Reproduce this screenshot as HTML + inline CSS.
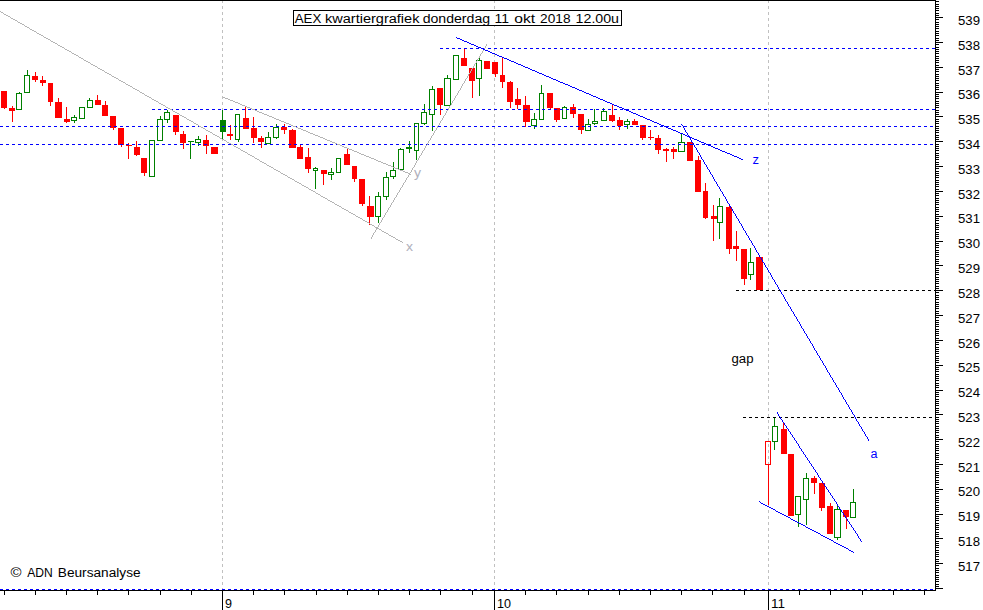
<!DOCTYPE html>
<html><head><meta charset="utf-8"><style>
html,body{margin:0;padding:0;background:#fff;}
svg{display:block;}
text{font-family:"Liberation Sans",sans-serif;}
</style></head><body>
<svg width="983" height="610" viewBox="0 0 983 610" shape-rendering="crispEdges">
<rect x="0" y="0" width="983" height="610" fill="#ffffff"/>
<rect x="222" y="0" width="1" height="3" fill="#c0c0c0"/>
<rect x="222" y="6" width="1" height="3" fill="#c0c0c0"/>
<rect x="222" y="12" width="1" height="3" fill="#c0c0c0"/>
<rect x="222" y="18" width="1" height="3" fill="#c0c0c0"/>
<rect x="222" y="24" width="1" height="3" fill="#c0c0c0"/>
<rect x="222" y="30" width="1" height="3" fill="#c0c0c0"/>
<rect x="222" y="36" width="1" height="3" fill="#c0c0c0"/>
<rect x="222" y="42" width="1" height="3" fill="#c0c0c0"/>
<rect x="222" y="48" width="1" height="3" fill="#c0c0c0"/>
<rect x="222" y="54" width="1" height="3" fill="#c0c0c0"/>
<rect x="222" y="60" width="1" height="3" fill="#c0c0c0"/>
<rect x="222" y="66" width="1" height="3" fill="#c0c0c0"/>
<rect x="222" y="72" width="1" height="3" fill="#c0c0c0"/>
<rect x="222" y="78" width="1" height="3" fill="#c0c0c0"/>
<rect x="222" y="84" width="1" height="3" fill="#c0c0c0"/>
<rect x="222" y="90" width="1" height="3" fill="#c0c0c0"/>
<rect x="222" y="96" width="1" height="3" fill="#c0c0c0"/>
<rect x="222" y="102" width="1" height="3" fill="#c0c0c0"/>
<rect x="222" y="108" width="1" height="3" fill="#c0c0c0"/>
<rect x="222" y="114" width="1" height="3" fill="#c0c0c0"/>
<rect x="222" y="120" width="1" height="3" fill="#c0c0c0"/>
<rect x="222" y="126" width="1" height="3" fill="#c0c0c0"/>
<rect x="222" y="132" width="1" height="3" fill="#c0c0c0"/>
<rect x="222" y="138" width="1" height="3" fill="#c0c0c0"/>
<rect x="222" y="144" width="1" height="3" fill="#c0c0c0"/>
<rect x="222" y="150" width="1" height="3" fill="#c0c0c0"/>
<rect x="222" y="156" width="1" height="3" fill="#c0c0c0"/>
<rect x="222" y="162" width="1" height="3" fill="#c0c0c0"/>
<rect x="222" y="168" width="1" height="3" fill="#c0c0c0"/>
<rect x="222" y="174" width="1" height="3" fill="#c0c0c0"/>
<rect x="222" y="180" width="1" height="3" fill="#c0c0c0"/>
<rect x="222" y="186" width="1" height="3" fill="#c0c0c0"/>
<rect x="222" y="192" width="1" height="3" fill="#c0c0c0"/>
<rect x="222" y="198" width="1" height="3" fill="#c0c0c0"/>
<rect x="222" y="204" width="1" height="3" fill="#c0c0c0"/>
<rect x="222" y="210" width="1" height="3" fill="#c0c0c0"/>
<rect x="222" y="216" width="1" height="3" fill="#c0c0c0"/>
<rect x="222" y="222" width="1" height="3" fill="#c0c0c0"/>
<rect x="222" y="228" width="1" height="3" fill="#c0c0c0"/>
<rect x="222" y="234" width="1" height="3" fill="#c0c0c0"/>
<rect x="222" y="240" width="1" height="3" fill="#c0c0c0"/>
<rect x="222" y="246" width="1" height="3" fill="#c0c0c0"/>
<rect x="222" y="252" width="1" height="3" fill="#c0c0c0"/>
<rect x="222" y="258" width="1" height="3" fill="#c0c0c0"/>
<rect x="222" y="264" width="1" height="3" fill="#c0c0c0"/>
<rect x="222" y="270" width="1" height="3" fill="#c0c0c0"/>
<rect x="222" y="276" width="1" height="3" fill="#c0c0c0"/>
<rect x="222" y="282" width="1" height="3" fill="#c0c0c0"/>
<rect x="222" y="288" width="1" height="3" fill="#c0c0c0"/>
<rect x="222" y="294" width="1" height="3" fill="#c0c0c0"/>
<rect x="222" y="300" width="1" height="3" fill="#c0c0c0"/>
<rect x="222" y="306" width="1" height="3" fill="#c0c0c0"/>
<rect x="222" y="312" width="1" height="3" fill="#c0c0c0"/>
<rect x="222" y="318" width="1" height="3" fill="#c0c0c0"/>
<rect x="222" y="324" width="1" height="3" fill="#c0c0c0"/>
<rect x="222" y="330" width="1" height="3" fill="#c0c0c0"/>
<rect x="222" y="336" width="1" height="3" fill="#c0c0c0"/>
<rect x="222" y="342" width="1" height="3" fill="#c0c0c0"/>
<rect x="222" y="348" width="1" height="3" fill="#c0c0c0"/>
<rect x="222" y="354" width="1" height="3" fill="#c0c0c0"/>
<rect x="222" y="360" width="1" height="3" fill="#c0c0c0"/>
<rect x="222" y="366" width="1" height="3" fill="#c0c0c0"/>
<rect x="222" y="372" width="1" height="3" fill="#c0c0c0"/>
<rect x="222" y="378" width="1" height="3" fill="#c0c0c0"/>
<rect x="222" y="384" width="1" height="3" fill="#c0c0c0"/>
<rect x="222" y="390" width="1" height="3" fill="#c0c0c0"/>
<rect x="222" y="396" width="1" height="3" fill="#c0c0c0"/>
<rect x="222" y="402" width="1" height="3" fill="#c0c0c0"/>
<rect x="222" y="408" width="1" height="3" fill="#c0c0c0"/>
<rect x="222" y="414" width="1" height="3" fill="#c0c0c0"/>
<rect x="222" y="420" width="1" height="3" fill="#c0c0c0"/>
<rect x="222" y="426" width="1" height="3" fill="#c0c0c0"/>
<rect x="222" y="432" width="1" height="3" fill="#c0c0c0"/>
<rect x="222" y="438" width="1" height="3" fill="#c0c0c0"/>
<rect x="222" y="444" width="1" height="3" fill="#c0c0c0"/>
<rect x="222" y="450" width="1" height="3" fill="#c0c0c0"/>
<rect x="222" y="456" width="1" height="3" fill="#c0c0c0"/>
<rect x="222" y="462" width="1" height="3" fill="#c0c0c0"/>
<rect x="222" y="468" width="1" height="3" fill="#c0c0c0"/>
<rect x="222" y="474" width="1" height="3" fill="#c0c0c0"/>
<rect x="222" y="480" width="1" height="3" fill="#c0c0c0"/>
<rect x="222" y="486" width="1" height="3" fill="#c0c0c0"/>
<rect x="222" y="492" width="1" height="3" fill="#c0c0c0"/>
<rect x="222" y="498" width="1" height="3" fill="#c0c0c0"/>
<rect x="222" y="504" width="1" height="3" fill="#c0c0c0"/>
<rect x="222" y="510" width="1" height="3" fill="#c0c0c0"/>
<rect x="222" y="516" width="1" height="3" fill="#c0c0c0"/>
<rect x="222" y="522" width="1" height="3" fill="#c0c0c0"/>
<rect x="222" y="528" width="1" height="3" fill="#c0c0c0"/>
<rect x="222" y="534" width="1" height="3" fill="#c0c0c0"/>
<rect x="222" y="540" width="1" height="3" fill="#c0c0c0"/>
<rect x="222" y="546" width="1" height="3" fill="#c0c0c0"/>
<rect x="222" y="552" width="1" height="3" fill="#c0c0c0"/>
<rect x="222" y="558" width="1" height="3" fill="#c0c0c0"/>
<rect x="222" y="564" width="1" height="3" fill="#c0c0c0"/>
<rect x="222" y="570" width="1" height="3" fill="#c0c0c0"/>
<rect x="222" y="576" width="1" height="3" fill="#c0c0c0"/>
<rect x="222" y="582" width="1" height="3" fill="#c0c0c0"/>
<rect x="222" y="588" width="1" height="2" fill="#c0c0c0"/>
<rect x="494" y="0" width="1" height="3" fill="#c0c0c0"/>
<rect x="494" y="6" width="1" height="3" fill="#c0c0c0"/>
<rect x="494" y="12" width="1" height="3" fill="#c0c0c0"/>
<rect x="494" y="18" width="1" height="3" fill="#c0c0c0"/>
<rect x="494" y="24" width="1" height="3" fill="#c0c0c0"/>
<rect x="494" y="30" width="1" height="3" fill="#c0c0c0"/>
<rect x="494" y="36" width="1" height="3" fill="#c0c0c0"/>
<rect x="494" y="42" width="1" height="3" fill="#c0c0c0"/>
<rect x="494" y="48" width="1" height="3" fill="#c0c0c0"/>
<rect x="494" y="54" width="1" height="3" fill="#c0c0c0"/>
<rect x="494" y="60" width="1" height="3" fill="#c0c0c0"/>
<rect x="494" y="66" width="1" height="3" fill="#c0c0c0"/>
<rect x="494" y="72" width="1" height="3" fill="#c0c0c0"/>
<rect x="494" y="78" width="1" height="3" fill="#c0c0c0"/>
<rect x="494" y="84" width="1" height="3" fill="#c0c0c0"/>
<rect x="494" y="90" width="1" height="3" fill="#c0c0c0"/>
<rect x="494" y="96" width="1" height="3" fill="#c0c0c0"/>
<rect x="494" y="102" width="1" height="3" fill="#c0c0c0"/>
<rect x="494" y="108" width="1" height="3" fill="#c0c0c0"/>
<rect x="494" y="114" width="1" height="3" fill="#c0c0c0"/>
<rect x="494" y="120" width="1" height="3" fill="#c0c0c0"/>
<rect x="494" y="126" width="1" height="3" fill="#c0c0c0"/>
<rect x="494" y="132" width="1" height="3" fill="#c0c0c0"/>
<rect x="494" y="138" width="1" height="3" fill="#c0c0c0"/>
<rect x="494" y="144" width="1" height="3" fill="#c0c0c0"/>
<rect x="494" y="150" width="1" height="3" fill="#c0c0c0"/>
<rect x="494" y="156" width="1" height="3" fill="#c0c0c0"/>
<rect x="494" y="162" width="1" height="3" fill="#c0c0c0"/>
<rect x="494" y="168" width="1" height="3" fill="#c0c0c0"/>
<rect x="494" y="174" width="1" height="3" fill="#c0c0c0"/>
<rect x="494" y="180" width="1" height="3" fill="#c0c0c0"/>
<rect x="494" y="186" width="1" height="3" fill="#c0c0c0"/>
<rect x="494" y="192" width="1" height="3" fill="#c0c0c0"/>
<rect x="494" y="198" width="1" height="3" fill="#c0c0c0"/>
<rect x="494" y="204" width="1" height="3" fill="#c0c0c0"/>
<rect x="494" y="210" width="1" height="3" fill="#c0c0c0"/>
<rect x="494" y="216" width="1" height="3" fill="#c0c0c0"/>
<rect x="494" y="222" width="1" height="3" fill="#c0c0c0"/>
<rect x="494" y="228" width="1" height="3" fill="#c0c0c0"/>
<rect x="494" y="234" width="1" height="3" fill="#c0c0c0"/>
<rect x="494" y="240" width="1" height="3" fill="#c0c0c0"/>
<rect x="494" y="246" width="1" height="3" fill="#c0c0c0"/>
<rect x="494" y="252" width="1" height="3" fill="#c0c0c0"/>
<rect x="494" y="258" width="1" height="3" fill="#c0c0c0"/>
<rect x="494" y="264" width="1" height="3" fill="#c0c0c0"/>
<rect x="494" y="270" width="1" height="3" fill="#c0c0c0"/>
<rect x="494" y="276" width="1" height="3" fill="#c0c0c0"/>
<rect x="494" y="282" width="1" height="3" fill="#c0c0c0"/>
<rect x="494" y="288" width="1" height="3" fill="#c0c0c0"/>
<rect x="494" y="294" width="1" height="3" fill="#c0c0c0"/>
<rect x="494" y="300" width="1" height="3" fill="#c0c0c0"/>
<rect x="494" y="306" width="1" height="3" fill="#c0c0c0"/>
<rect x="494" y="312" width="1" height="3" fill="#c0c0c0"/>
<rect x="494" y="318" width="1" height="3" fill="#c0c0c0"/>
<rect x="494" y="324" width="1" height="3" fill="#c0c0c0"/>
<rect x="494" y="330" width="1" height="3" fill="#c0c0c0"/>
<rect x="494" y="336" width="1" height="3" fill="#c0c0c0"/>
<rect x="494" y="342" width="1" height="3" fill="#c0c0c0"/>
<rect x="494" y="348" width="1" height="3" fill="#c0c0c0"/>
<rect x="494" y="354" width="1" height="3" fill="#c0c0c0"/>
<rect x="494" y="360" width="1" height="3" fill="#c0c0c0"/>
<rect x="494" y="366" width="1" height="3" fill="#c0c0c0"/>
<rect x="494" y="372" width="1" height="3" fill="#c0c0c0"/>
<rect x="494" y="378" width="1" height="3" fill="#c0c0c0"/>
<rect x="494" y="384" width="1" height="3" fill="#c0c0c0"/>
<rect x="494" y="390" width="1" height="3" fill="#c0c0c0"/>
<rect x="494" y="396" width="1" height="3" fill="#c0c0c0"/>
<rect x="494" y="402" width="1" height="3" fill="#c0c0c0"/>
<rect x="494" y="408" width="1" height="3" fill="#c0c0c0"/>
<rect x="494" y="414" width="1" height="3" fill="#c0c0c0"/>
<rect x="494" y="420" width="1" height="3" fill="#c0c0c0"/>
<rect x="494" y="426" width="1" height="3" fill="#c0c0c0"/>
<rect x="494" y="432" width="1" height="3" fill="#c0c0c0"/>
<rect x="494" y="438" width="1" height="3" fill="#c0c0c0"/>
<rect x="494" y="444" width="1" height="3" fill="#c0c0c0"/>
<rect x="494" y="450" width="1" height="3" fill="#c0c0c0"/>
<rect x="494" y="456" width="1" height="3" fill="#c0c0c0"/>
<rect x="494" y="462" width="1" height="3" fill="#c0c0c0"/>
<rect x="494" y="468" width="1" height="3" fill="#c0c0c0"/>
<rect x="494" y="474" width="1" height="3" fill="#c0c0c0"/>
<rect x="494" y="480" width="1" height="3" fill="#c0c0c0"/>
<rect x="494" y="486" width="1" height="3" fill="#c0c0c0"/>
<rect x="494" y="492" width="1" height="3" fill="#c0c0c0"/>
<rect x="494" y="498" width="1" height="3" fill="#c0c0c0"/>
<rect x="494" y="504" width="1" height="3" fill="#c0c0c0"/>
<rect x="494" y="510" width="1" height="3" fill="#c0c0c0"/>
<rect x="494" y="516" width="1" height="3" fill="#c0c0c0"/>
<rect x="494" y="522" width="1" height="3" fill="#c0c0c0"/>
<rect x="494" y="528" width="1" height="3" fill="#c0c0c0"/>
<rect x="494" y="534" width="1" height="3" fill="#c0c0c0"/>
<rect x="494" y="540" width="1" height="3" fill="#c0c0c0"/>
<rect x="494" y="546" width="1" height="3" fill="#c0c0c0"/>
<rect x="494" y="552" width="1" height="3" fill="#c0c0c0"/>
<rect x="494" y="558" width="1" height="3" fill="#c0c0c0"/>
<rect x="494" y="564" width="1" height="3" fill="#c0c0c0"/>
<rect x="494" y="570" width="1" height="3" fill="#c0c0c0"/>
<rect x="494" y="576" width="1" height="3" fill="#c0c0c0"/>
<rect x="494" y="582" width="1" height="3" fill="#c0c0c0"/>
<rect x="494" y="588" width="1" height="2" fill="#c0c0c0"/>
<rect x="768" y="0" width="1" height="3" fill="#c0c0c0"/>
<rect x="768" y="6" width="1" height="3" fill="#c0c0c0"/>
<rect x="768" y="12" width="1" height="3" fill="#c0c0c0"/>
<rect x="768" y="18" width="1" height="3" fill="#c0c0c0"/>
<rect x="768" y="24" width="1" height="3" fill="#c0c0c0"/>
<rect x="768" y="30" width="1" height="3" fill="#c0c0c0"/>
<rect x="768" y="36" width="1" height="3" fill="#c0c0c0"/>
<rect x="768" y="42" width="1" height="3" fill="#c0c0c0"/>
<rect x="768" y="48" width="1" height="3" fill="#c0c0c0"/>
<rect x="768" y="54" width="1" height="3" fill="#c0c0c0"/>
<rect x="768" y="60" width="1" height="3" fill="#c0c0c0"/>
<rect x="768" y="66" width="1" height="3" fill="#c0c0c0"/>
<rect x="768" y="72" width="1" height="3" fill="#c0c0c0"/>
<rect x="768" y="78" width="1" height="3" fill="#c0c0c0"/>
<rect x="768" y="84" width="1" height="3" fill="#c0c0c0"/>
<rect x="768" y="90" width="1" height="3" fill="#c0c0c0"/>
<rect x="768" y="96" width="1" height="3" fill="#c0c0c0"/>
<rect x="768" y="102" width="1" height="3" fill="#c0c0c0"/>
<rect x="768" y="108" width="1" height="3" fill="#c0c0c0"/>
<rect x="768" y="114" width="1" height="3" fill="#c0c0c0"/>
<rect x="768" y="120" width="1" height="3" fill="#c0c0c0"/>
<rect x="768" y="126" width="1" height="3" fill="#c0c0c0"/>
<rect x="768" y="132" width="1" height="3" fill="#c0c0c0"/>
<rect x="768" y="138" width="1" height="3" fill="#c0c0c0"/>
<rect x="768" y="144" width="1" height="3" fill="#c0c0c0"/>
<rect x="768" y="150" width="1" height="3" fill="#c0c0c0"/>
<rect x="768" y="156" width="1" height="3" fill="#c0c0c0"/>
<rect x="768" y="162" width="1" height="3" fill="#c0c0c0"/>
<rect x="768" y="168" width="1" height="3" fill="#c0c0c0"/>
<rect x="768" y="174" width="1" height="3" fill="#c0c0c0"/>
<rect x="768" y="180" width="1" height="3" fill="#c0c0c0"/>
<rect x="768" y="186" width="1" height="3" fill="#c0c0c0"/>
<rect x="768" y="192" width="1" height="3" fill="#c0c0c0"/>
<rect x="768" y="198" width="1" height="3" fill="#c0c0c0"/>
<rect x="768" y="204" width="1" height="3" fill="#c0c0c0"/>
<rect x="768" y="210" width="1" height="3" fill="#c0c0c0"/>
<rect x="768" y="216" width="1" height="3" fill="#c0c0c0"/>
<rect x="768" y="222" width="1" height="3" fill="#c0c0c0"/>
<rect x="768" y="228" width="1" height="3" fill="#c0c0c0"/>
<rect x="768" y="234" width="1" height="3" fill="#c0c0c0"/>
<rect x="768" y="240" width="1" height="3" fill="#c0c0c0"/>
<rect x="768" y="246" width="1" height="3" fill="#c0c0c0"/>
<rect x="768" y="252" width="1" height="3" fill="#c0c0c0"/>
<rect x="768" y="258" width="1" height="3" fill="#c0c0c0"/>
<rect x="768" y="264" width="1" height="3" fill="#c0c0c0"/>
<rect x="768" y="270" width="1" height="3" fill="#c0c0c0"/>
<rect x="768" y="276" width="1" height="3" fill="#c0c0c0"/>
<rect x="768" y="282" width="1" height="3" fill="#c0c0c0"/>
<rect x="768" y="288" width="1" height="3" fill="#c0c0c0"/>
<rect x="768" y="294" width="1" height="3" fill="#c0c0c0"/>
<rect x="768" y="300" width="1" height="3" fill="#c0c0c0"/>
<rect x="768" y="306" width="1" height="3" fill="#c0c0c0"/>
<rect x="768" y="312" width="1" height="3" fill="#c0c0c0"/>
<rect x="768" y="318" width="1" height="3" fill="#c0c0c0"/>
<rect x="768" y="324" width="1" height="3" fill="#c0c0c0"/>
<rect x="768" y="330" width="1" height="3" fill="#c0c0c0"/>
<rect x="768" y="336" width="1" height="3" fill="#c0c0c0"/>
<rect x="768" y="342" width="1" height="3" fill="#c0c0c0"/>
<rect x="768" y="348" width="1" height="3" fill="#c0c0c0"/>
<rect x="768" y="354" width="1" height="3" fill="#c0c0c0"/>
<rect x="768" y="360" width="1" height="3" fill="#c0c0c0"/>
<rect x="768" y="366" width="1" height="3" fill="#c0c0c0"/>
<rect x="768" y="372" width="1" height="3" fill="#c0c0c0"/>
<rect x="768" y="378" width="1" height="3" fill="#c0c0c0"/>
<rect x="768" y="384" width="1" height="3" fill="#c0c0c0"/>
<rect x="768" y="390" width="1" height="3" fill="#c0c0c0"/>
<rect x="768" y="396" width="1" height="3" fill="#c0c0c0"/>
<rect x="768" y="402" width="1" height="3" fill="#c0c0c0"/>
<rect x="768" y="408" width="1" height="3" fill="#c0c0c0"/>
<rect x="768" y="414" width="1" height="3" fill="#c0c0c0"/>
<rect x="768" y="420" width="1" height="3" fill="#c0c0c0"/>
<rect x="768" y="426" width="1" height="3" fill="#c0c0c0"/>
<rect x="768" y="432" width="1" height="3" fill="#c0c0c0"/>
<rect x="768" y="438" width="1" height="3" fill="#c0c0c0"/>
<rect x="768" y="444" width="1" height="3" fill="#c0c0c0"/>
<rect x="768" y="450" width="1" height="3" fill="#c0c0c0"/>
<rect x="768" y="456" width="1" height="3" fill="#c0c0c0"/>
<rect x="768" y="462" width="1" height="3" fill="#c0c0c0"/>
<rect x="768" y="468" width="1" height="3" fill="#c0c0c0"/>
<rect x="768" y="474" width="1" height="3" fill="#c0c0c0"/>
<rect x="768" y="480" width="1" height="3" fill="#c0c0c0"/>
<rect x="768" y="486" width="1" height="3" fill="#c0c0c0"/>
<rect x="768" y="492" width="1" height="3" fill="#c0c0c0"/>
<rect x="768" y="498" width="1" height="3" fill="#c0c0c0"/>
<rect x="768" y="504" width="1" height="3" fill="#c0c0c0"/>
<rect x="768" y="510" width="1" height="3" fill="#c0c0c0"/>
<rect x="768" y="516" width="1" height="3" fill="#c0c0c0"/>
<rect x="768" y="522" width="1" height="3" fill="#c0c0c0"/>
<rect x="768" y="528" width="1" height="3" fill="#c0c0c0"/>
<rect x="768" y="534" width="1" height="3" fill="#c0c0c0"/>
<rect x="768" y="540" width="1" height="3" fill="#c0c0c0"/>
<rect x="768" y="546" width="1" height="3" fill="#c0c0c0"/>
<rect x="768" y="552" width="1" height="3" fill="#c0c0c0"/>
<rect x="768" y="558" width="1" height="3" fill="#c0c0c0"/>
<rect x="768" y="564" width="1" height="3" fill="#c0c0c0"/>
<rect x="768" y="570" width="1" height="3" fill="#c0c0c0"/>
<rect x="768" y="576" width="1" height="3" fill="#c0c0c0"/>
<rect x="768" y="582" width="1" height="3" fill="#c0c0c0"/>
<rect x="768" y="588" width="1" height="2" fill="#c0c0c0"/>
<rect x="4" y="108" width="1" height="1" fill="#ff0000"/>
<rect x="1" y="91" width="6" height="17" fill="#ff0000"/>
<rect x="12" y="106" width="1" height="2" fill="#ff0000"/>
<rect x="12" y="111" width="1" height="11" fill="#ff0000"/>
<rect x="9" y="108" width="6" height="3" fill="#ff0000"/>
<rect x="19" y="92" width="1" height="1" fill="#008000"/>
<rect x="16" y="93" width="6" height="1" fill="#008000"/>
<rect x="16" y="109" width="6" height="1" fill="#008000"/>
<rect x="16" y="93" width="1" height="17" fill="#008000"/>
<rect x="21" y="93" width="1" height="17" fill="#008000"/>
<rect x="27" y="70" width="1" height="5" fill="#008000"/>
<rect x="24" y="75" width="6" height="1" fill="#008000"/>
<rect x="24" y="92" width="6" height="1" fill="#008000"/>
<rect x="24" y="75" width="1" height="18" fill="#008000"/>
<rect x="29" y="75" width="1" height="18" fill="#008000"/>
<rect x="35" y="72" width="1" height="4" fill="#ff0000"/>
<rect x="35" y="80" width="1" height="2" fill="#ff0000"/>
<rect x="32" y="76" width="6" height="4" fill="#ff0000"/>
<rect x="42" y="76" width="1" height="4" fill="#ff0000"/>
<rect x="42" y="83" width="1" height="3" fill="#ff0000"/>
<rect x="40" y="80" width="6" height="3" fill="#ff0000"/>
<rect x="50" y="102" width="1" height="4" fill="#ff0000"/>
<rect x="48" y="83" width="5" height="19" fill="#ff0000"/>
<rect x="58" y="98" width="1" height="4" fill="#ff0000"/>
<rect x="55" y="102" width="7" height="16" fill="#ff0000"/>
<rect x="66" y="107" width="1" height="12" fill="#ff0000"/>
<rect x="66" y="122" width="1" height="1" fill="#ff0000"/>
<rect x="64" y="119" width="6" height="3" fill="#ff0000"/>
<rect x="74" y="115" width="1" height="2" fill="#008000"/>
<rect x="74" y="121" width="1" height="2" fill="#008000"/>
<rect x="71" y="117" width="6" height="1" fill="#008000"/>
<rect x="71" y="120" width="6" height="1" fill="#008000"/>
<rect x="71" y="117" width="1" height="4" fill="#008000"/>
<rect x="76" y="117" width="1" height="4" fill="#008000"/>
<rect x="79" y="107" width="6" height="1" fill="#008000"/>
<rect x="79" y="118" width="6" height="1" fill="#008000"/>
<rect x="79" y="107" width="1" height="12" fill="#008000"/>
<rect x="84" y="107" width="1" height="12" fill="#008000"/>
<rect x="89" y="98" width="1" height="2" fill="#008000"/>
<rect x="87" y="100" width="6" height="1" fill="#008000"/>
<rect x="87" y="107" width="6" height="1" fill="#008000"/>
<rect x="87" y="100" width="1" height="8" fill="#008000"/>
<rect x="92" y="100" width="1" height="8" fill="#008000"/>
<rect x="97" y="95" width="1" height="5" fill="#ff0000"/>
<rect x="95" y="100" width="6" height="5" fill="#ff0000"/>
<rect x="105" y="101" width="1" height="4" fill="#ff0000"/>
<rect x="102" y="105" width="6" height="11" fill="#ff0000"/>
<rect x="113" y="128" width="1" height="2" fill="#ff0000"/>
<rect x="110" y="116" width="6" height="12" fill="#ff0000"/>
<rect x="121" y="145" width="1" height="2" fill="#ff0000"/>
<rect x="118" y="128" width="6" height="17" fill="#ff0000"/>
<rect x="128" y="143" width="1" height="2" fill="#ff0000"/>
<rect x="128" y="146" width="1" height="13" fill="#ff0000"/>
<rect x="126" y="145" width="6" height="1" fill="#ff0000"/>
<rect x="136" y="141" width="1" height="6" fill="#ff0000"/>
<rect x="136" y="155" width="1" height="1" fill="#ff0000"/>
<rect x="134" y="147" width="6" height="8" fill="#ff0000"/>
<rect x="144" y="173" width="1" height="3" fill="#ff0000"/>
<rect x="141" y="158" width="6" height="15" fill="#ff0000"/>
<rect x="149" y="140" width="6" height="1" fill="#008000"/>
<rect x="149" y="176" width="6" height="1" fill="#008000"/>
<rect x="149" y="140" width="1" height="37" fill="#008000"/>
<rect x="154" y="140" width="1" height="37" fill="#008000"/>
<rect x="160" y="116" width="1" height="3" fill="#008000"/>
<rect x="157" y="119" width="6" height="1" fill="#008000"/>
<rect x="157" y="140" width="6" height="1" fill="#008000"/>
<rect x="157" y="119" width="1" height="22" fill="#008000"/>
<rect x="162" y="119" width="1" height="22" fill="#008000"/>
<rect x="167" y="110" width="1" height="2" fill="#008000"/>
<rect x="167" y="120" width="1" height="3" fill="#008000"/>
<rect x="164" y="112" width="6" height="1" fill="#008000"/>
<rect x="164" y="119" width="6" height="1" fill="#008000"/>
<rect x="164" y="112" width="1" height="8" fill="#008000"/>
<rect x="169" y="112" width="1" height="8" fill="#008000"/>
<rect x="175" y="132" width="1" height="3" fill="#ff0000"/>
<rect x="173" y="115" width="6" height="17" fill="#ff0000"/>
<rect x="183" y="131" width="1" height="3" fill="#ff0000"/>
<rect x="183" y="143" width="1" height="6" fill="#ff0000"/>
<rect x="180" y="134" width="6" height="9" fill="#ff0000"/>
<rect x="190" y="142" width="1" height="17" fill="#008000"/>
<rect x="188" y="141" width="6" height="1" fill="#008000"/>
<rect x="198" y="136" width="1" height="3" fill="#008000"/>
<rect x="198" y="143" width="1" height="3" fill="#008000"/>
<rect x="195" y="139" width="6" height="1" fill="#008000"/>
<rect x="195" y="142" width="6" height="1" fill="#008000"/>
<rect x="195" y="139" width="1" height="4" fill="#008000"/>
<rect x="200" y="139" width="1" height="4" fill="#008000"/>
<rect x="206" y="135" width="1" height="5" fill="#ff0000"/>
<rect x="206" y="146" width="1" height="8" fill="#ff0000"/>
<rect x="203" y="140" width="6" height="6" fill="#ff0000"/>
<rect x="211" y="147" width="7" height="7" fill="#ff0000"/>
<rect x="222" y="110" width="1" height="10" fill="#008000"/>
<rect x="222" y="132" width="1" height="7" fill="#008000"/>
<rect x="220" y="120" width="6" height="12" fill="#008000"/>
<rect x="230" y="125" width="1" height="9" fill="#ff0000"/>
<rect x="230" y="136" width="1" height="4" fill="#ff0000"/>
<rect x="227" y="134" width="6" height="2" fill="#ff0000"/>
<rect x="238" y="140" width="1" height="2" fill="#008000"/>
<rect x="235" y="114" width="5" height="1" fill="#008000"/>
<rect x="235" y="139" width="5" height="1" fill="#008000"/>
<rect x="235" y="114" width="1" height="26" fill="#008000"/>
<rect x="239" y="114" width="1" height="26" fill="#008000"/>
<rect x="245" y="106" width="1" height="12" fill="#ff0000"/>
<rect x="243" y="118" width="6" height="11" fill="#ff0000"/>
<rect x="253" y="117" width="1" height="11" fill="#ff0000"/>
<rect x="253" y="138" width="1" height="5" fill="#ff0000"/>
<rect x="251" y="128" width="6" height="10" fill="#ff0000"/>
<rect x="261" y="136" width="1" height="2" fill="#ff0000"/>
<rect x="261" y="142" width="1" height="6" fill="#ff0000"/>
<rect x="258" y="138" width="6" height="4" fill="#ff0000"/>
<rect x="268" y="132" width="1" height="5" fill="#008000"/>
<rect x="265" y="137" width="6" height="1" fill="#008000"/>
<rect x="265" y="143" width="6" height="1" fill="#008000"/>
<rect x="265" y="137" width="1" height="7" fill="#008000"/>
<rect x="270" y="137" width="1" height="7" fill="#008000"/>
<rect x="276" y="124" width="1" height="3" fill="#008000"/>
<rect x="276" y="138" width="1" height="1" fill="#008000"/>
<rect x="273" y="127" width="6" height="1" fill="#008000"/>
<rect x="273" y="137" width="6" height="1" fill="#008000"/>
<rect x="273" y="127" width="1" height="11" fill="#008000"/>
<rect x="278" y="127" width="1" height="11" fill="#008000"/>
<rect x="284" y="124" width="1" height="3" fill="#ff0000"/>
<rect x="284" y="130" width="1" height="4" fill="#ff0000"/>
<rect x="281" y="127" width="6" height="3" fill="#ff0000"/>
<rect x="292" y="129" width="1" height="1" fill="#ff0000"/>
<rect x="289" y="130" width="7" height="18" fill="#ff0000"/>
<rect x="300" y="145" width="1" height="2" fill="#ff0000"/>
<rect x="297" y="147" width="6" height="12" fill="#ff0000"/>
<rect x="308" y="148" width="1" height="9" fill="#ff0000"/>
<rect x="308" y="169" width="1" height="4" fill="#ff0000"/>
<rect x="305" y="157" width="6" height="12" fill="#ff0000"/>
<rect x="315" y="167" width="1" height="1" fill="#008000"/>
<rect x="315" y="171" width="1" height="18" fill="#008000"/>
<rect x="313" y="168" width="5" height="1" fill="#008000"/>
<rect x="313" y="170" width="5" height="1" fill="#008000"/>
<rect x="313" y="168" width="1" height="3" fill="#008000"/>
<rect x="317" y="168" width="1" height="3" fill="#008000"/>
<rect x="323" y="174" width="1" height="11" fill="#ff0000"/>
<rect x="321" y="170" width="6" height="4" fill="#ff0000"/>
<rect x="331" y="168" width="1" height="4" fill="#008000"/>
<rect x="331" y="175" width="1" height="5" fill="#008000"/>
<rect x="328" y="172" width="6" height="1" fill="#008000"/>
<rect x="328" y="174" width="6" height="1" fill="#008000"/>
<rect x="328" y="172" width="1" height="3" fill="#008000"/>
<rect x="333" y="172" width="1" height="3" fill="#008000"/>
<rect x="336" y="158" width="5" height="1" fill="#008000"/>
<rect x="336" y="172" width="5" height="1" fill="#008000"/>
<rect x="336" y="158" width="1" height="15" fill="#008000"/>
<rect x="340" y="158" width="1" height="15" fill="#008000"/>
<rect x="347" y="148" width="1" height="6" fill="#ff0000"/>
<rect x="344" y="154" width="6" height="11" fill="#ff0000"/>
<rect x="354" y="179" width="1" height="3" fill="#ff0000"/>
<rect x="352" y="166" width="5" height="13" fill="#ff0000"/>
<rect x="362" y="204" width="1" height="2" fill="#ff0000"/>
<rect x="359" y="179" width="6" height="25" fill="#ff0000"/>
<rect x="369" y="196" width="1" height="10" fill="#ff0000"/>
<rect x="369" y="217" width="1" height="8" fill="#ff0000"/>
<rect x="367" y="206" width="7" height="11" fill="#ff0000"/>
<rect x="378" y="192" width="1" height="4" fill="#008000"/>
<rect x="378" y="217" width="1" height="6" fill="#008000"/>
<rect x="375" y="196" width="6" height="1" fill="#008000"/>
<rect x="375" y="216" width="6" height="1" fill="#008000"/>
<rect x="375" y="196" width="1" height="21" fill="#008000"/>
<rect x="380" y="196" width="1" height="21" fill="#008000"/>
<rect x="386" y="172" width="1" height="5" fill="#008000"/>
<rect x="386" y="197" width="1" height="3" fill="#008000"/>
<rect x="383" y="177" width="6" height="1" fill="#008000"/>
<rect x="383" y="196" width="6" height="1" fill="#008000"/>
<rect x="383" y="177" width="1" height="20" fill="#008000"/>
<rect x="388" y="177" width="1" height="20" fill="#008000"/>
<rect x="393" y="162" width="1" height="8" fill="#008000"/>
<rect x="393" y="177" width="1" height="2" fill="#008000"/>
<rect x="390" y="170" width="6" height="1" fill="#008000"/>
<rect x="390" y="176" width="6" height="1" fill="#008000"/>
<rect x="390" y="170" width="1" height="7" fill="#008000"/>
<rect x="395" y="170" width="1" height="7" fill="#008000"/>
<rect x="400" y="148" width="1" height="1" fill="#008000"/>
<rect x="398" y="149" width="6" height="1" fill="#008000"/>
<rect x="398" y="169" width="6" height="1" fill="#008000"/>
<rect x="398" y="149" width="1" height="21" fill="#008000"/>
<rect x="403" y="149" width="1" height="21" fill="#008000"/>
<rect x="409" y="141" width="1" height="6" fill="#008000"/>
<rect x="409" y="149" width="1" height="4" fill="#008000"/>
<rect x="406" y="147" width="6" height="2" fill="#008000"/>
<rect x="416" y="151" width="1" height="9" fill="#008000"/>
<rect x="414" y="123" width="5" height="1" fill="#008000"/>
<rect x="414" y="150" width="5" height="1" fill="#008000"/>
<rect x="414" y="123" width="1" height="28" fill="#008000"/>
<rect x="418" y="123" width="1" height="28" fill="#008000"/>
<rect x="424" y="104" width="1" height="8" fill="#008000"/>
<rect x="424" y="124" width="1" height="1" fill="#008000"/>
<rect x="421" y="112" width="6" height="1" fill="#008000"/>
<rect x="421" y="123" width="6" height="1" fill="#008000"/>
<rect x="421" y="112" width="1" height="12" fill="#008000"/>
<rect x="426" y="112" width="1" height="12" fill="#008000"/>
<rect x="432" y="86" width="1" height="3" fill="#008000"/>
<rect x="432" y="115" width="1" height="16" fill="#008000"/>
<rect x="429" y="89" width="6" height="1" fill="#008000"/>
<rect x="429" y="114" width="6" height="1" fill="#008000"/>
<rect x="429" y="89" width="1" height="26" fill="#008000"/>
<rect x="434" y="89" width="1" height="26" fill="#008000"/>
<rect x="440" y="105" width="1" height="10" fill="#ff0000"/>
<rect x="437" y="88" width="6" height="17" fill="#ff0000"/>
<rect x="447" y="75" width="1" height="3" fill="#008000"/>
<rect x="444" y="78" width="7" height="1" fill="#008000"/>
<rect x="444" y="105" width="7" height="1" fill="#008000"/>
<rect x="444" y="78" width="1" height="28" fill="#008000"/>
<rect x="450" y="78" width="1" height="28" fill="#008000"/>
<rect x="453" y="55" width="6" height="1" fill="#008000"/>
<rect x="453" y="79" width="6" height="1" fill="#008000"/>
<rect x="453" y="55" width="1" height="25" fill="#008000"/>
<rect x="458" y="55" width="1" height="25" fill="#008000"/>
<rect x="464" y="49" width="1" height="9" fill="#ff0000"/>
<rect x="461" y="58" width="6" height="8" fill="#ff0000"/>
<rect x="472" y="81" width="1" height="17" fill="#ff0000"/>
<rect x="469" y="68" width="6" height="13" fill="#ff0000"/>
<rect x="479" y="58" width="1" height="2" fill="#008000"/>
<rect x="479" y="79" width="1" height="17" fill="#008000"/>
<rect x="476" y="60" width="6" height="1" fill="#008000"/>
<rect x="476" y="78" width="6" height="1" fill="#008000"/>
<rect x="476" y="60" width="1" height="19" fill="#008000"/>
<rect x="481" y="60" width="1" height="19" fill="#008000"/>
<rect x="484" y="61" width="6" height="8" fill="#ff0000"/>
<rect x="495" y="74" width="1" height="3" fill="#ff0000"/>
<rect x="492" y="62" width="6" height="12" fill="#ff0000"/>
<rect x="502" y="57" width="1" height="18" fill="#ff0000"/>
<rect x="502" y="82" width="1" height="6" fill="#ff0000"/>
<rect x="500" y="75" width="5" height="7" fill="#ff0000"/>
<rect x="510" y="81" width="1" height="1" fill="#ff0000"/>
<rect x="510" y="102" width="1" height="6" fill="#ff0000"/>
<rect x="507" y="82" width="6" height="20" fill="#ff0000"/>
<rect x="517" y="88" width="1" height="11" fill="#ff0000"/>
<rect x="517" y="105" width="1" height="4" fill="#ff0000"/>
<rect x="515" y="99" width="6" height="6" fill="#ff0000"/>
<rect x="525" y="96" width="1" height="9" fill="#ff0000"/>
<rect x="525" y="122" width="1" height="5" fill="#ff0000"/>
<rect x="523" y="105" width="7" height="17" fill="#ff0000"/>
<rect x="534" y="113" width="1" height="6" fill="#008000"/>
<rect x="534" y="126" width="1" height="3" fill="#008000"/>
<rect x="531" y="119" width="6" height="1" fill="#008000"/>
<rect x="531" y="125" width="6" height="1" fill="#008000"/>
<rect x="531" y="119" width="1" height="7" fill="#008000"/>
<rect x="536" y="119" width="1" height="7" fill="#008000"/>
<rect x="541" y="85" width="1" height="8" fill="#008000"/>
<rect x="539" y="93" width="5" height="1" fill="#008000"/>
<rect x="539" y="119" width="5" height="1" fill="#008000"/>
<rect x="539" y="93" width="1" height="27" fill="#008000"/>
<rect x="543" y="93" width="1" height="27" fill="#008000"/>
<rect x="550" y="108" width="1" height="1" fill="#ff0000"/>
<rect x="547" y="93" width="6" height="15" fill="#ff0000"/>
<rect x="556" y="120" width="1" height="2" fill="#ff0000"/>
<rect x="554" y="108" width="6" height="12" fill="#ff0000"/>
<rect x="564" y="106" width="1" height="1" fill="#008000"/>
<rect x="562" y="107" width="5" height="1" fill="#008000"/>
<rect x="562" y="118" width="5" height="1" fill="#008000"/>
<rect x="562" y="107" width="1" height="12" fill="#008000"/>
<rect x="566" y="107" width="1" height="12" fill="#008000"/>
<rect x="573" y="104" width="1" height="3" fill="#ff0000"/>
<rect x="573" y="114" width="1" height="4" fill="#ff0000"/>
<rect x="570" y="107" width="6" height="7" fill="#ff0000"/>
<rect x="581" y="130" width="1" height="4" fill="#ff0000"/>
<rect x="578" y="114" width="6" height="16" fill="#ff0000"/>
<rect x="588" y="119" width="1" height="5" fill="#008000"/>
<rect x="585" y="124" width="6" height="1" fill="#008000"/>
<rect x="585" y="130" width="6" height="1" fill="#008000"/>
<rect x="585" y="124" width="1" height="7" fill="#008000"/>
<rect x="590" y="124" width="1" height="7" fill="#008000"/>
<rect x="594" y="109" width="1" height="12" fill="#008000"/>
<rect x="594" y="124" width="1" height="1" fill="#008000"/>
<rect x="592" y="121" width="6" height="1" fill="#008000"/>
<rect x="592" y="123" width="6" height="1" fill="#008000"/>
<rect x="592" y="121" width="1" height="3" fill="#008000"/>
<rect x="597" y="121" width="1" height="3" fill="#008000"/>
<rect x="603" y="108" width="1" height="3" fill="#008000"/>
<rect x="601" y="111" width="6" height="1" fill="#008000"/>
<rect x="601" y="120" width="6" height="1" fill="#008000"/>
<rect x="601" y="111" width="1" height="10" fill="#008000"/>
<rect x="606" y="111" width="1" height="10" fill="#008000"/>
<rect x="612" y="105" width="1" height="10" fill="#ff0000"/>
<rect x="612" y="121" width="1" height="1" fill="#ff0000"/>
<rect x="609" y="115" width="6" height="6" fill="#ff0000"/>
<rect x="619" y="117" width="1" height="3" fill="#ff0000"/>
<rect x="619" y="126" width="1" height="4" fill="#ff0000"/>
<rect x="617" y="120" width="6" height="6" fill="#ff0000"/>
<rect x="627" y="119" width="1" height="2" fill="#008000"/>
<rect x="627" y="125" width="1" height="4" fill="#008000"/>
<rect x="624" y="121" width="6" height="1" fill="#008000"/>
<rect x="624" y="124" width="6" height="1" fill="#008000"/>
<rect x="624" y="121" width="1" height="4" fill="#008000"/>
<rect x="629" y="121" width="1" height="4" fill="#008000"/>
<rect x="634" y="119" width="1" height="2" fill="#ff0000"/>
<rect x="632" y="121" width="6" height="4" fill="#ff0000"/>
<rect x="642" y="138" width="1" height="2" fill="#ff0000"/>
<rect x="640" y="125" width="6" height="13" fill="#ff0000"/>
<rect x="650" y="130" width="1" height="7" fill="#ff0000"/>
<rect x="650" y="138" width="1" height="2" fill="#ff0000"/>
<rect x="648" y="137" width="6" height="1" fill="#ff0000"/>
<rect x="658" y="135" width="1" height="3" fill="#ff0000"/>
<rect x="658" y="150" width="1" height="4" fill="#ff0000"/>
<rect x="655" y="138" width="6" height="12" fill="#ff0000"/>
<rect x="666" y="148" width="1" height="1" fill="#ff0000"/>
<rect x="666" y="151" width="1" height="11" fill="#ff0000"/>
<rect x="663" y="149" width="6" height="2" fill="#ff0000"/>
<rect x="673" y="147" width="1" height="2" fill="#ff0000"/>
<rect x="673" y="152" width="1" height="7" fill="#ff0000"/>
<rect x="671" y="149" width="6" height="3" fill="#ff0000"/>
<rect x="681" y="134" width="1" height="8" fill="#008000"/>
<rect x="678" y="142" width="7" height="1" fill="#008000"/>
<rect x="678" y="151" width="7" height="1" fill="#008000"/>
<rect x="678" y="142" width="1" height="10" fill="#008000"/>
<rect x="684" y="142" width="1" height="10" fill="#008000"/>
<rect x="687" y="142" width="6" height="19" fill="#ff0000"/>
<rect x="698" y="156" width="1" height="4" fill="#ff0000"/>
<rect x="695" y="160" width="6" height="32" fill="#ff0000"/>
<rect x="705" y="183" width="1" height="8" fill="#ff0000"/>
<rect x="705" y="218" width="1" height="1" fill="#ff0000"/>
<rect x="703" y="191" width="5" height="27" fill="#ff0000"/>
<rect x="713" y="205" width="1" height="11" fill="#ff0000"/>
<rect x="713" y="219" width="1" height="22" fill="#ff0000"/>
<rect x="711" y="216" width="6" height="3" fill="#ff0000"/>
<rect x="719" y="198" width="1" height="8" fill="#008000"/>
<rect x="719" y="223" width="1" height="16" fill="#008000"/>
<rect x="717" y="206" width="6" height="1" fill="#008000"/>
<rect x="717" y="222" width="6" height="1" fill="#008000"/>
<rect x="717" y="206" width="1" height="17" fill="#008000"/>
<rect x="722" y="206" width="1" height="17" fill="#008000"/>
<rect x="729" y="206" width="1" height="1" fill="#ff0000"/>
<rect x="729" y="249" width="1" height="5" fill="#ff0000"/>
<rect x="726" y="207" width="6" height="42" fill="#ff0000"/>
<rect x="736" y="231" width="1" height="15" fill="#ff0000"/>
<rect x="736" y="249" width="1" height="12" fill="#ff0000"/>
<rect x="733" y="246" width="6" height="3" fill="#ff0000"/>
<rect x="744" y="279" width="1" height="6" fill="#ff0000"/>
<rect x="741" y="249" width="6" height="30" fill="#ff0000"/>
<rect x="750" y="248" width="1" height="14" fill="#008000"/>
<rect x="750" y="275" width="1" height="5" fill="#008000"/>
<rect x="748" y="262" width="6" height="1" fill="#008000"/>
<rect x="748" y="274" width="6" height="1" fill="#008000"/>
<rect x="748" y="262" width="1" height="13" fill="#008000"/>
<rect x="753" y="262" width="1" height="13" fill="#008000"/>
<rect x="756" y="257" width="7" height="33" fill="#ff0000"/>
<rect x="768" y="465" width="1" height="40" fill="#ff0000"/>
<rect x="765" y="441" width="6" height="1" fill="#ff0000"/>
<rect x="765" y="464" width="6" height="1" fill="#ff0000"/>
<rect x="765" y="441" width="1" height="24" fill="#ff0000"/>
<rect x="770" y="441" width="1" height="24" fill="#ff0000"/>
<rect x="774" y="418" width="1" height="8" fill="#008000"/>
<rect x="774" y="442" width="1" height="8" fill="#008000"/>
<rect x="772" y="426" width="6" height="1" fill="#008000"/>
<rect x="772" y="441" width="6" height="1" fill="#008000"/>
<rect x="772" y="426" width="1" height="16" fill="#008000"/>
<rect x="777" y="426" width="1" height="16" fill="#008000"/>
<rect x="783" y="423" width="1" height="6" fill="#ff0000"/>
<rect x="781" y="429" width="6" height="25" fill="#ff0000"/>
<rect x="788" y="454" width="6" height="62" fill="#ff0000"/>
<rect x="798" y="515" width="1" height="12" fill="#008000"/>
<rect x="795" y="496" width="6" height="1" fill="#008000"/>
<rect x="795" y="514" width="6" height="1" fill="#008000"/>
<rect x="795" y="496" width="1" height="19" fill="#008000"/>
<rect x="800" y="496" width="1" height="19" fill="#008000"/>
<rect x="806" y="473" width="1" height="5" fill="#008000"/>
<rect x="806" y="500" width="1" height="25" fill="#008000"/>
<rect x="803" y="478" width="6" height="1" fill="#008000"/>
<rect x="803" y="499" width="6" height="1" fill="#008000"/>
<rect x="803" y="478" width="1" height="22" fill="#008000"/>
<rect x="808" y="478" width="1" height="22" fill="#008000"/>
<rect x="814" y="476" width="1" height="2" fill="#ff0000"/>
<rect x="814" y="483" width="1" height="11" fill="#ff0000"/>
<rect x="811" y="478" width="6" height="5" fill="#ff0000"/>
<rect x="821" y="508" width="1" height="3" fill="#ff0000"/>
<rect x="819" y="483" width="6" height="25" fill="#ff0000"/>
<rect x="830" y="503" width="1" height="3" fill="#ff0000"/>
<rect x="827" y="506" width="6" height="28" fill="#ff0000"/>
<rect x="837" y="506" width="1" height="3" fill="#008000"/>
<rect x="837" y="538" width="1" height="2" fill="#008000"/>
<rect x="834" y="509" width="7" height="1" fill="#008000"/>
<rect x="834" y="537" width="7" height="1" fill="#008000"/>
<rect x="834" y="509" width="1" height="29" fill="#008000"/>
<rect x="840" y="509" width="1" height="29" fill="#008000"/>
<rect x="846" y="517" width="1" height="12" fill="#ff0000"/>
<rect x="843" y="510" width="6" height="7" fill="#ff0000"/>
<rect x="853" y="489" width="1" height="13" fill="#008000"/>
<rect x="850" y="502" width="6" height="1" fill="#008000"/>
<rect x="850" y="517" width="6" height="1" fill="#008000"/>
<rect x="850" y="502" width="1" height="16" fill="#008000"/>
<rect x="855" y="502" width="1" height="16" fill="#008000"/>
<rect x="440" y="48" width="3" height="1" fill="#0000ff"/>
<rect x="446" y="48" width="3" height="1" fill="#0000ff"/>
<rect x="452" y="48" width="3" height="1" fill="#0000ff"/>
<rect x="458" y="48" width="3" height="1" fill="#0000ff"/>
<rect x="464" y="48" width="3" height="1" fill="#0000ff"/>
<rect x="470" y="48" width="3" height="1" fill="#0000ff"/>
<rect x="476" y="48" width="3" height="1" fill="#0000ff"/>
<rect x="482" y="48" width="3" height="1" fill="#0000ff"/>
<rect x="488" y="48" width="3" height="1" fill="#0000ff"/>
<rect x="494" y="48" width="3" height="1" fill="#0000ff"/>
<rect x="500" y="48" width="3" height="1" fill="#0000ff"/>
<rect x="506" y="48" width="3" height="1" fill="#0000ff"/>
<rect x="512" y="48" width="3" height="1" fill="#0000ff"/>
<rect x="518" y="48" width="3" height="1" fill="#0000ff"/>
<rect x="524" y="48" width="3" height="1" fill="#0000ff"/>
<rect x="530" y="48" width="3" height="1" fill="#0000ff"/>
<rect x="536" y="48" width="3" height="1" fill="#0000ff"/>
<rect x="542" y="48" width="3" height="1" fill="#0000ff"/>
<rect x="548" y="48" width="3" height="1" fill="#0000ff"/>
<rect x="554" y="48" width="3" height="1" fill="#0000ff"/>
<rect x="560" y="48" width="3" height="1" fill="#0000ff"/>
<rect x="566" y="48" width="3" height="1" fill="#0000ff"/>
<rect x="572" y="48" width="3" height="1" fill="#0000ff"/>
<rect x="578" y="48" width="3" height="1" fill="#0000ff"/>
<rect x="584" y="48" width="3" height="1" fill="#0000ff"/>
<rect x="590" y="48" width="3" height="1" fill="#0000ff"/>
<rect x="596" y="48" width="3" height="1" fill="#0000ff"/>
<rect x="602" y="48" width="3" height="1" fill="#0000ff"/>
<rect x="608" y="48" width="3" height="1" fill="#0000ff"/>
<rect x="614" y="48" width="3" height="1" fill="#0000ff"/>
<rect x="620" y="48" width="3" height="1" fill="#0000ff"/>
<rect x="626" y="48" width="3" height="1" fill="#0000ff"/>
<rect x="632" y="48" width="3" height="1" fill="#0000ff"/>
<rect x="638" y="48" width="3" height="1" fill="#0000ff"/>
<rect x="644" y="48" width="3" height="1" fill="#0000ff"/>
<rect x="650" y="48" width="3" height="1" fill="#0000ff"/>
<rect x="656" y="48" width="3" height="1" fill="#0000ff"/>
<rect x="662" y="48" width="3" height="1" fill="#0000ff"/>
<rect x="668" y="48" width="3" height="1" fill="#0000ff"/>
<rect x="674" y="48" width="3" height="1" fill="#0000ff"/>
<rect x="680" y="48" width="3" height="1" fill="#0000ff"/>
<rect x="686" y="48" width="3" height="1" fill="#0000ff"/>
<rect x="692" y="48" width="3" height="1" fill="#0000ff"/>
<rect x="698" y="48" width="3" height="1" fill="#0000ff"/>
<rect x="704" y="48" width="3" height="1" fill="#0000ff"/>
<rect x="710" y="48" width="3" height="1" fill="#0000ff"/>
<rect x="716" y="48" width="3" height="1" fill="#0000ff"/>
<rect x="722" y="48" width="3" height="1" fill="#0000ff"/>
<rect x="728" y="48" width="3" height="1" fill="#0000ff"/>
<rect x="734" y="48" width="3" height="1" fill="#0000ff"/>
<rect x="740" y="48" width="3" height="1" fill="#0000ff"/>
<rect x="746" y="48" width="3" height="1" fill="#0000ff"/>
<rect x="752" y="48" width="3" height="1" fill="#0000ff"/>
<rect x="758" y="48" width="3" height="1" fill="#0000ff"/>
<rect x="764" y="48" width="3" height="1" fill="#0000ff"/>
<rect x="770" y="48" width="3" height="1" fill="#0000ff"/>
<rect x="776" y="48" width="3" height="1" fill="#0000ff"/>
<rect x="782" y="48" width="3" height="1" fill="#0000ff"/>
<rect x="788" y="48" width="3" height="1" fill="#0000ff"/>
<rect x="794" y="48" width="3" height="1" fill="#0000ff"/>
<rect x="800" y="48" width="3" height="1" fill="#0000ff"/>
<rect x="806" y="48" width="3" height="1" fill="#0000ff"/>
<rect x="812" y="48" width="3" height="1" fill="#0000ff"/>
<rect x="818" y="48" width="3" height="1" fill="#0000ff"/>
<rect x="824" y="48" width="3" height="1" fill="#0000ff"/>
<rect x="830" y="48" width="3" height="1" fill="#0000ff"/>
<rect x="836" y="48" width="3" height="1" fill="#0000ff"/>
<rect x="842" y="48" width="3" height="1" fill="#0000ff"/>
<rect x="848" y="48" width="3" height="1" fill="#0000ff"/>
<rect x="854" y="48" width="3" height="1" fill="#0000ff"/>
<rect x="860" y="48" width="3" height="1" fill="#0000ff"/>
<rect x="866" y="48" width="3" height="1" fill="#0000ff"/>
<rect x="872" y="48" width="3" height="1" fill="#0000ff"/>
<rect x="878" y="48" width="3" height="1" fill="#0000ff"/>
<rect x="884" y="48" width="3" height="1" fill="#0000ff"/>
<rect x="890" y="48" width="3" height="1" fill="#0000ff"/>
<rect x="896" y="48" width="3" height="1" fill="#0000ff"/>
<rect x="902" y="48" width="3" height="1" fill="#0000ff"/>
<rect x="908" y="48" width="3" height="1" fill="#0000ff"/>
<rect x="914" y="48" width="3" height="1" fill="#0000ff"/>
<rect x="920" y="48" width="3" height="1" fill="#0000ff"/>
<rect x="926" y="48" width="3" height="1" fill="#0000ff"/>
<rect x="932" y="48" width="3" height="1" fill="#0000ff"/>
<rect x="152" y="109" width="3" height="1" fill="#0000ff"/>
<rect x="158" y="109" width="3" height="1" fill="#0000ff"/>
<rect x="164" y="109" width="3" height="1" fill="#0000ff"/>
<rect x="170" y="109" width="3" height="1" fill="#0000ff"/>
<rect x="176" y="109" width="3" height="1" fill="#0000ff"/>
<rect x="182" y="109" width="3" height="1" fill="#0000ff"/>
<rect x="188" y="109" width="3" height="1" fill="#0000ff"/>
<rect x="194" y="109" width="3" height="1" fill="#0000ff"/>
<rect x="200" y="109" width="3" height="1" fill="#0000ff"/>
<rect x="206" y="109" width="3" height="1" fill="#0000ff"/>
<rect x="212" y="109" width="3" height="1" fill="#0000ff"/>
<rect x="218" y="109" width="3" height="1" fill="#0000ff"/>
<rect x="224" y="109" width="3" height="1" fill="#0000ff"/>
<rect x="230" y="109" width="3" height="1" fill="#0000ff"/>
<rect x="236" y="109" width="3" height="1" fill="#0000ff"/>
<rect x="242" y="109" width="3" height="1" fill="#0000ff"/>
<rect x="248" y="109" width="3" height="1" fill="#0000ff"/>
<rect x="254" y="109" width="3" height="1" fill="#0000ff"/>
<rect x="260" y="109" width="3" height="1" fill="#0000ff"/>
<rect x="266" y="109" width="3" height="1" fill="#0000ff"/>
<rect x="272" y="109" width="3" height="1" fill="#0000ff"/>
<rect x="278" y="109" width="3" height="1" fill="#0000ff"/>
<rect x="284" y="109" width="3" height="1" fill="#0000ff"/>
<rect x="290" y="109" width="3" height="1" fill="#0000ff"/>
<rect x="296" y="109" width="3" height="1" fill="#0000ff"/>
<rect x="302" y="109" width="3" height="1" fill="#0000ff"/>
<rect x="308" y="109" width="3" height="1" fill="#0000ff"/>
<rect x="314" y="109" width="3" height="1" fill="#0000ff"/>
<rect x="320" y="109" width="3" height="1" fill="#0000ff"/>
<rect x="326" y="109" width="3" height="1" fill="#0000ff"/>
<rect x="332" y="109" width="3" height="1" fill="#0000ff"/>
<rect x="338" y="109" width="3" height="1" fill="#0000ff"/>
<rect x="344" y="109" width="3" height="1" fill="#0000ff"/>
<rect x="350" y="109" width="3" height="1" fill="#0000ff"/>
<rect x="356" y="109" width="3" height="1" fill="#0000ff"/>
<rect x="362" y="109" width="3" height="1" fill="#0000ff"/>
<rect x="368" y="109" width="3" height="1" fill="#0000ff"/>
<rect x="374" y="109" width="3" height="1" fill="#0000ff"/>
<rect x="380" y="109" width="3" height="1" fill="#0000ff"/>
<rect x="386" y="109" width="3" height="1" fill="#0000ff"/>
<rect x="392" y="109" width="3" height="1" fill="#0000ff"/>
<rect x="398" y="109" width="3" height="1" fill="#0000ff"/>
<rect x="404" y="109" width="3" height="1" fill="#0000ff"/>
<rect x="410" y="109" width="3" height="1" fill="#0000ff"/>
<rect x="416" y="109" width="3" height="1" fill="#0000ff"/>
<rect x="422" y="109" width="3" height="1" fill="#0000ff"/>
<rect x="428" y="109" width="3" height="1" fill="#0000ff"/>
<rect x="434" y="109" width="3" height="1" fill="#0000ff"/>
<rect x="440" y="109" width="3" height="1" fill="#0000ff"/>
<rect x="446" y="109" width="3" height="1" fill="#0000ff"/>
<rect x="452" y="109" width="3" height="1" fill="#0000ff"/>
<rect x="458" y="109" width="3" height="1" fill="#0000ff"/>
<rect x="464" y="109" width="3" height="1" fill="#0000ff"/>
<rect x="470" y="109" width="3" height="1" fill="#0000ff"/>
<rect x="476" y="109" width="3" height="1" fill="#0000ff"/>
<rect x="482" y="109" width="3" height="1" fill="#0000ff"/>
<rect x="488" y="109" width="3" height="1" fill="#0000ff"/>
<rect x="494" y="109" width="3" height="1" fill="#0000ff"/>
<rect x="500" y="109" width="3" height="1" fill="#0000ff"/>
<rect x="506" y="109" width="3" height="1" fill="#0000ff"/>
<rect x="512" y="109" width="3" height="1" fill="#0000ff"/>
<rect x="518" y="109" width="3" height="1" fill="#0000ff"/>
<rect x="524" y="109" width="3" height="1" fill="#0000ff"/>
<rect x="530" y="109" width="3" height="1" fill="#0000ff"/>
<rect x="536" y="109" width="3" height="1" fill="#0000ff"/>
<rect x="542" y="109" width="3" height="1" fill="#0000ff"/>
<rect x="548" y="109" width="3" height="1" fill="#0000ff"/>
<rect x="554" y="109" width="3" height="1" fill="#0000ff"/>
<rect x="560" y="109" width="3" height="1" fill="#0000ff"/>
<rect x="566" y="109" width="3" height="1" fill="#0000ff"/>
<rect x="572" y="109" width="3" height="1" fill="#0000ff"/>
<rect x="578" y="109" width="3" height="1" fill="#0000ff"/>
<rect x="584" y="109" width="3" height="1" fill="#0000ff"/>
<rect x="590" y="109" width="3" height="1" fill="#0000ff"/>
<rect x="596" y="109" width="3" height="1" fill="#0000ff"/>
<rect x="602" y="109" width="3" height="1" fill="#0000ff"/>
<rect x="608" y="109" width="3" height="1" fill="#0000ff"/>
<rect x="614" y="109" width="3" height="1" fill="#0000ff"/>
<rect x="620" y="109" width="3" height="1" fill="#0000ff"/>
<rect x="626" y="109" width="3" height="1" fill="#0000ff"/>
<rect x="632" y="109" width="3" height="1" fill="#0000ff"/>
<rect x="638" y="109" width="3" height="1" fill="#0000ff"/>
<rect x="644" y="109" width="3" height="1" fill="#0000ff"/>
<rect x="650" y="109" width="3" height="1" fill="#0000ff"/>
<rect x="656" y="109" width="3" height="1" fill="#0000ff"/>
<rect x="662" y="109" width="3" height="1" fill="#0000ff"/>
<rect x="668" y="109" width="3" height="1" fill="#0000ff"/>
<rect x="674" y="109" width="3" height="1" fill="#0000ff"/>
<rect x="680" y="109" width="3" height="1" fill="#0000ff"/>
<rect x="686" y="109" width="3" height="1" fill="#0000ff"/>
<rect x="692" y="109" width="3" height="1" fill="#0000ff"/>
<rect x="698" y="109" width="3" height="1" fill="#0000ff"/>
<rect x="704" y="109" width="3" height="1" fill="#0000ff"/>
<rect x="710" y="109" width="3" height="1" fill="#0000ff"/>
<rect x="716" y="109" width="3" height="1" fill="#0000ff"/>
<rect x="722" y="109" width="3" height="1" fill="#0000ff"/>
<rect x="728" y="109" width="3" height="1" fill="#0000ff"/>
<rect x="734" y="109" width="3" height="1" fill="#0000ff"/>
<rect x="740" y="109" width="3" height="1" fill="#0000ff"/>
<rect x="746" y="109" width="3" height="1" fill="#0000ff"/>
<rect x="752" y="109" width="3" height="1" fill="#0000ff"/>
<rect x="758" y="109" width="3" height="1" fill="#0000ff"/>
<rect x="764" y="109" width="3" height="1" fill="#0000ff"/>
<rect x="770" y="109" width="3" height="1" fill="#0000ff"/>
<rect x="776" y="109" width="3" height="1" fill="#0000ff"/>
<rect x="782" y="109" width="3" height="1" fill="#0000ff"/>
<rect x="788" y="109" width="3" height="1" fill="#0000ff"/>
<rect x="794" y="109" width="3" height="1" fill="#0000ff"/>
<rect x="800" y="109" width="3" height="1" fill="#0000ff"/>
<rect x="806" y="109" width="3" height="1" fill="#0000ff"/>
<rect x="812" y="109" width="3" height="1" fill="#0000ff"/>
<rect x="818" y="109" width="3" height="1" fill="#0000ff"/>
<rect x="824" y="109" width="3" height="1" fill="#0000ff"/>
<rect x="830" y="109" width="3" height="1" fill="#0000ff"/>
<rect x="836" y="109" width="3" height="1" fill="#0000ff"/>
<rect x="842" y="109" width="3" height="1" fill="#0000ff"/>
<rect x="848" y="109" width="3" height="1" fill="#0000ff"/>
<rect x="854" y="109" width="3" height="1" fill="#0000ff"/>
<rect x="860" y="109" width="3" height="1" fill="#0000ff"/>
<rect x="866" y="109" width="3" height="1" fill="#0000ff"/>
<rect x="872" y="109" width="3" height="1" fill="#0000ff"/>
<rect x="878" y="109" width="3" height="1" fill="#0000ff"/>
<rect x="884" y="109" width="3" height="1" fill="#0000ff"/>
<rect x="890" y="109" width="3" height="1" fill="#0000ff"/>
<rect x="896" y="109" width="3" height="1" fill="#0000ff"/>
<rect x="902" y="109" width="3" height="1" fill="#0000ff"/>
<rect x="908" y="109" width="3" height="1" fill="#0000ff"/>
<rect x="914" y="109" width="3" height="1" fill="#0000ff"/>
<rect x="920" y="109" width="3" height="1" fill="#0000ff"/>
<rect x="926" y="109" width="3" height="1" fill="#0000ff"/>
<rect x="932" y="109" width="3" height="1" fill="#0000ff"/>
<rect x="0" y="126" width="3" height="1" fill="#0000ff"/>
<rect x="6" y="126" width="3" height="1" fill="#0000ff"/>
<rect x="12" y="126" width="3" height="1" fill="#0000ff"/>
<rect x="18" y="126" width="3" height="1" fill="#0000ff"/>
<rect x="24" y="126" width="3" height="1" fill="#0000ff"/>
<rect x="30" y="126" width="3" height="1" fill="#0000ff"/>
<rect x="36" y="126" width="3" height="1" fill="#0000ff"/>
<rect x="42" y="126" width="3" height="1" fill="#0000ff"/>
<rect x="48" y="126" width="3" height="1" fill="#0000ff"/>
<rect x="54" y="126" width="3" height="1" fill="#0000ff"/>
<rect x="60" y="126" width="3" height="1" fill="#0000ff"/>
<rect x="66" y="126" width="3" height="1" fill="#0000ff"/>
<rect x="72" y="126" width="3" height="1" fill="#0000ff"/>
<rect x="78" y="126" width="3" height="1" fill="#0000ff"/>
<rect x="84" y="126" width="3" height="1" fill="#0000ff"/>
<rect x="90" y="126" width="3" height="1" fill="#0000ff"/>
<rect x="96" y="126" width="3" height="1" fill="#0000ff"/>
<rect x="102" y="126" width="3" height="1" fill="#0000ff"/>
<rect x="108" y="126" width="3" height="1" fill="#0000ff"/>
<rect x="114" y="126" width="3" height="1" fill="#0000ff"/>
<rect x="120" y="126" width="3" height="1" fill="#0000ff"/>
<rect x="126" y="126" width="3" height="1" fill="#0000ff"/>
<rect x="132" y="126" width="3" height="1" fill="#0000ff"/>
<rect x="138" y="126" width="3" height="1" fill="#0000ff"/>
<rect x="144" y="126" width="3" height="1" fill="#0000ff"/>
<rect x="150" y="126" width="3" height="1" fill="#0000ff"/>
<rect x="156" y="126" width="3" height="1" fill="#0000ff"/>
<rect x="162" y="126" width="3" height="1" fill="#0000ff"/>
<rect x="168" y="126" width="3" height="1" fill="#0000ff"/>
<rect x="174" y="126" width="3" height="1" fill="#0000ff"/>
<rect x="180" y="126" width="3" height="1" fill="#0000ff"/>
<rect x="186" y="126" width="3" height="1" fill="#0000ff"/>
<rect x="192" y="126" width="3" height="1" fill="#0000ff"/>
<rect x="198" y="126" width="3" height="1" fill="#0000ff"/>
<rect x="204" y="126" width="3" height="1" fill="#0000ff"/>
<rect x="210" y="126" width="3" height="1" fill="#0000ff"/>
<rect x="216" y="126" width="3" height="1" fill="#0000ff"/>
<rect x="222" y="126" width="3" height="1" fill="#0000ff"/>
<rect x="228" y="126" width="3" height="1" fill="#0000ff"/>
<rect x="234" y="126" width="3" height="1" fill="#0000ff"/>
<rect x="240" y="126" width="3" height="1" fill="#0000ff"/>
<rect x="246" y="126" width="3" height="1" fill="#0000ff"/>
<rect x="252" y="126" width="3" height="1" fill="#0000ff"/>
<rect x="258" y="126" width="3" height="1" fill="#0000ff"/>
<rect x="264" y="126" width="3" height="1" fill="#0000ff"/>
<rect x="270" y="126" width="3" height="1" fill="#0000ff"/>
<rect x="276" y="126" width="3" height="1" fill="#0000ff"/>
<rect x="282" y="126" width="3" height="1" fill="#0000ff"/>
<rect x="288" y="126" width="3" height="1" fill="#0000ff"/>
<rect x="294" y="126" width="3" height="1" fill="#0000ff"/>
<rect x="300" y="126" width="3" height="1" fill="#0000ff"/>
<rect x="306" y="126" width="3" height="1" fill="#0000ff"/>
<rect x="312" y="126" width="3" height="1" fill="#0000ff"/>
<rect x="318" y="126" width="3" height="1" fill="#0000ff"/>
<rect x="324" y="126" width="3" height="1" fill="#0000ff"/>
<rect x="330" y="126" width="3" height="1" fill="#0000ff"/>
<rect x="336" y="126" width="3" height="1" fill="#0000ff"/>
<rect x="342" y="126" width="3" height="1" fill="#0000ff"/>
<rect x="348" y="126" width="3" height="1" fill="#0000ff"/>
<rect x="354" y="126" width="3" height="1" fill="#0000ff"/>
<rect x="360" y="126" width="3" height="1" fill="#0000ff"/>
<rect x="366" y="126" width="3" height="1" fill="#0000ff"/>
<rect x="372" y="126" width="3" height="1" fill="#0000ff"/>
<rect x="378" y="126" width="3" height="1" fill="#0000ff"/>
<rect x="384" y="126" width="3" height="1" fill="#0000ff"/>
<rect x="390" y="126" width="3" height="1" fill="#0000ff"/>
<rect x="396" y="126" width="3" height="1" fill="#0000ff"/>
<rect x="402" y="126" width="3" height="1" fill="#0000ff"/>
<rect x="408" y="126" width="3" height="1" fill="#0000ff"/>
<rect x="414" y="126" width="3" height="1" fill="#0000ff"/>
<rect x="420" y="126" width="3" height="1" fill="#0000ff"/>
<rect x="426" y="126" width="3" height="1" fill="#0000ff"/>
<rect x="432" y="126" width="3" height="1" fill="#0000ff"/>
<rect x="438" y="126" width="3" height="1" fill="#0000ff"/>
<rect x="444" y="126" width="3" height="1" fill="#0000ff"/>
<rect x="450" y="126" width="3" height="1" fill="#0000ff"/>
<rect x="456" y="126" width="3" height="1" fill="#0000ff"/>
<rect x="462" y="126" width="3" height="1" fill="#0000ff"/>
<rect x="468" y="126" width="3" height="1" fill="#0000ff"/>
<rect x="474" y="126" width="3" height="1" fill="#0000ff"/>
<rect x="480" y="126" width="3" height="1" fill="#0000ff"/>
<rect x="486" y="126" width="3" height="1" fill="#0000ff"/>
<rect x="492" y="126" width="3" height="1" fill="#0000ff"/>
<rect x="498" y="126" width="3" height="1" fill="#0000ff"/>
<rect x="504" y="126" width="3" height="1" fill="#0000ff"/>
<rect x="510" y="126" width="3" height="1" fill="#0000ff"/>
<rect x="516" y="126" width="3" height="1" fill="#0000ff"/>
<rect x="522" y="126" width="3" height="1" fill="#0000ff"/>
<rect x="528" y="126" width="3" height="1" fill="#0000ff"/>
<rect x="534" y="126" width="3" height="1" fill="#0000ff"/>
<rect x="540" y="126" width="3" height="1" fill="#0000ff"/>
<rect x="546" y="126" width="3" height="1" fill="#0000ff"/>
<rect x="552" y="126" width="3" height="1" fill="#0000ff"/>
<rect x="558" y="126" width="3" height="1" fill="#0000ff"/>
<rect x="564" y="126" width="3" height="1" fill="#0000ff"/>
<rect x="570" y="126" width="3" height="1" fill="#0000ff"/>
<rect x="576" y="126" width="3" height="1" fill="#0000ff"/>
<rect x="582" y="126" width="3" height="1" fill="#0000ff"/>
<rect x="588" y="126" width="3" height="1" fill="#0000ff"/>
<rect x="594" y="126" width="3" height="1" fill="#0000ff"/>
<rect x="600" y="126" width="3" height="1" fill="#0000ff"/>
<rect x="606" y="126" width="3" height="1" fill="#0000ff"/>
<rect x="612" y="126" width="3" height="1" fill="#0000ff"/>
<rect x="618" y="126" width="3" height="1" fill="#0000ff"/>
<rect x="624" y="126" width="3" height="1" fill="#0000ff"/>
<rect x="630" y="126" width="3" height="1" fill="#0000ff"/>
<rect x="636" y="126" width="3" height="1" fill="#0000ff"/>
<rect x="642" y="126" width="3" height="1" fill="#0000ff"/>
<rect x="648" y="126" width="3" height="1" fill="#0000ff"/>
<rect x="654" y="126" width="3" height="1" fill="#0000ff"/>
<rect x="660" y="126" width="3" height="1" fill="#0000ff"/>
<rect x="666" y="126" width="3" height="1" fill="#0000ff"/>
<rect x="672" y="126" width="3" height="1" fill="#0000ff"/>
<rect x="678" y="126" width="3" height="1" fill="#0000ff"/>
<rect x="684" y="126" width="3" height="1" fill="#0000ff"/>
<rect x="690" y="126" width="3" height="1" fill="#0000ff"/>
<rect x="696" y="126" width="3" height="1" fill="#0000ff"/>
<rect x="702" y="126" width="3" height="1" fill="#0000ff"/>
<rect x="708" y="126" width="3" height="1" fill="#0000ff"/>
<rect x="714" y="126" width="3" height="1" fill="#0000ff"/>
<rect x="720" y="126" width="3" height="1" fill="#0000ff"/>
<rect x="726" y="126" width="3" height="1" fill="#0000ff"/>
<rect x="732" y="126" width="3" height="1" fill="#0000ff"/>
<rect x="738" y="126" width="3" height="1" fill="#0000ff"/>
<rect x="744" y="126" width="3" height="1" fill="#0000ff"/>
<rect x="750" y="126" width="3" height="1" fill="#0000ff"/>
<rect x="756" y="126" width="3" height="1" fill="#0000ff"/>
<rect x="762" y="126" width="3" height="1" fill="#0000ff"/>
<rect x="768" y="126" width="3" height="1" fill="#0000ff"/>
<rect x="774" y="126" width="3" height="1" fill="#0000ff"/>
<rect x="780" y="126" width="3" height="1" fill="#0000ff"/>
<rect x="786" y="126" width="3" height="1" fill="#0000ff"/>
<rect x="792" y="126" width="3" height="1" fill="#0000ff"/>
<rect x="798" y="126" width="3" height="1" fill="#0000ff"/>
<rect x="804" y="126" width="3" height="1" fill="#0000ff"/>
<rect x="810" y="126" width="3" height="1" fill="#0000ff"/>
<rect x="816" y="126" width="3" height="1" fill="#0000ff"/>
<rect x="822" y="126" width="3" height="1" fill="#0000ff"/>
<rect x="828" y="126" width="3" height="1" fill="#0000ff"/>
<rect x="834" y="126" width="3" height="1" fill="#0000ff"/>
<rect x="840" y="126" width="3" height="1" fill="#0000ff"/>
<rect x="846" y="126" width="3" height="1" fill="#0000ff"/>
<rect x="852" y="126" width="3" height="1" fill="#0000ff"/>
<rect x="858" y="126" width="3" height="1" fill="#0000ff"/>
<rect x="864" y="126" width="3" height="1" fill="#0000ff"/>
<rect x="870" y="126" width="3" height="1" fill="#0000ff"/>
<rect x="876" y="126" width="3" height="1" fill="#0000ff"/>
<rect x="882" y="126" width="3" height="1" fill="#0000ff"/>
<rect x="888" y="126" width="3" height="1" fill="#0000ff"/>
<rect x="894" y="126" width="3" height="1" fill="#0000ff"/>
<rect x="900" y="126" width="3" height="1" fill="#0000ff"/>
<rect x="906" y="126" width="3" height="1" fill="#0000ff"/>
<rect x="912" y="126" width="3" height="1" fill="#0000ff"/>
<rect x="918" y="126" width="3" height="1" fill="#0000ff"/>
<rect x="924" y="126" width="3" height="1" fill="#0000ff"/>
<rect x="930" y="126" width="3" height="1" fill="#0000ff"/>
<rect x="0" y="144" width="3" height="1" fill="#0000ff"/>
<rect x="6" y="144" width="3" height="1" fill="#0000ff"/>
<rect x="12" y="144" width="3" height="1" fill="#0000ff"/>
<rect x="18" y="144" width="3" height="1" fill="#0000ff"/>
<rect x="24" y="144" width="3" height="1" fill="#0000ff"/>
<rect x="30" y="144" width="3" height="1" fill="#0000ff"/>
<rect x="36" y="144" width="3" height="1" fill="#0000ff"/>
<rect x="42" y="144" width="3" height="1" fill="#0000ff"/>
<rect x="48" y="144" width="3" height="1" fill="#0000ff"/>
<rect x="54" y="144" width="3" height="1" fill="#0000ff"/>
<rect x="60" y="144" width="3" height="1" fill="#0000ff"/>
<rect x="66" y="144" width="3" height="1" fill="#0000ff"/>
<rect x="72" y="144" width="3" height="1" fill="#0000ff"/>
<rect x="78" y="144" width="3" height="1" fill="#0000ff"/>
<rect x="84" y="144" width="3" height="1" fill="#0000ff"/>
<rect x="90" y="144" width="3" height="1" fill="#0000ff"/>
<rect x="96" y="144" width="3" height="1" fill="#0000ff"/>
<rect x="102" y="144" width="3" height="1" fill="#0000ff"/>
<rect x="108" y="144" width="3" height="1" fill="#0000ff"/>
<rect x="114" y="144" width="3" height="1" fill="#0000ff"/>
<rect x="120" y="144" width="3" height="1" fill="#0000ff"/>
<rect x="126" y="144" width="3" height="1" fill="#0000ff"/>
<rect x="132" y="144" width="3" height="1" fill="#0000ff"/>
<rect x="138" y="144" width="3" height="1" fill="#0000ff"/>
<rect x="144" y="144" width="3" height="1" fill="#0000ff"/>
<rect x="150" y="144" width="3" height="1" fill="#0000ff"/>
<rect x="156" y="144" width="3" height="1" fill="#0000ff"/>
<rect x="162" y="144" width="3" height="1" fill="#0000ff"/>
<rect x="168" y="144" width="3" height="1" fill="#0000ff"/>
<rect x="174" y="144" width="3" height="1" fill="#0000ff"/>
<rect x="180" y="144" width="3" height="1" fill="#0000ff"/>
<rect x="186" y="144" width="3" height="1" fill="#0000ff"/>
<rect x="192" y="144" width="3" height="1" fill="#0000ff"/>
<rect x="198" y="144" width="3" height="1" fill="#0000ff"/>
<rect x="204" y="144" width="3" height="1" fill="#0000ff"/>
<rect x="210" y="144" width="3" height="1" fill="#0000ff"/>
<rect x="216" y="144" width="3" height="1" fill="#0000ff"/>
<rect x="222" y="144" width="3" height="1" fill="#0000ff"/>
<rect x="228" y="144" width="3" height="1" fill="#0000ff"/>
<rect x="234" y="144" width="3" height="1" fill="#0000ff"/>
<rect x="240" y="144" width="3" height="1" fill="#0000ff"/>
<rect x="246" y="144" width="3" height="1" fill="#0000ff"/>
<rect x="252" y="144" width="3" height="1" fill="#0000ff"/>
<rect x="258" y="144" width="3" height="1" fill="#0000ff"/>
<rect x="264" y="144" width="3" height="1" fill="#0000ff"/>
<rect x="270" y="144" width="3" height="1" fill="#0000ff"/>
<rect x="276" y="144" width="3" height="1" fill="#0000ff"/>
<rect x="282" y="144" width="3" height="1" fill="#0000ff"/>
<rect x="288" y="144" width="3" height="1" fill="#0000ff"/>
<rect x="294" y="144" width="3" height="1" fill="#0000ff"/>
<rect x="300" y="144" width="3" height="1" fill="#0000ff"/>
<rect x="306" y="144" width="3" height="1" fill="#0000ff"/>
<rect x="312" y="144" width="3" height="1" fill="#0000ff"/>
<rect x="318" y="144" width="3" height="1" fill="#0000ff"/>
<rect x="324" y="144" width="3" height="1" fill="#0000ff"/>
<rect x="330" y="144" width="3" height="1" fill="#0000ff"/>
<rect x="336" y="144" width="3" height="1" fill="#0000ff"/>
<rect x="342" y="144" width="3" height="1" fill="#0000ff"/>
<rect x="348" y="144" width="3" height="1" fill="#0000ff"/>
<rect x="354" y="144" width="3" height="1" fill="#0000ff"/>
<rect x="360" y="144" width="3" height="1" fill="#0000ff"/>
<rect x="366" y="144" width="3" height="1" fill="#0000ff"/>
<rect x="372" y="144" width="3" height="1" fill="#0000ff"/>
<rect x="378" y="144" width="3" height="1" fill="#0000ff"/>
<rect x="384" y="144" width="3" height="1" fill="#0000ff"/>
<rect x="390" y="144" width="3" height="1" fill="#0000ff"/>
<rect x="396" y="144" width="3" height="1" fill="#0000ff"/>
<rect x="402" y="144" width="3" height="1" fill="#0000ff"/>
<rect x="408" y="144" width="3" height="1" fill="#0000ff"/>
<rect x="414" y="144" width="3" height="1" fill="#0000ff"/>
<rect x="420" y="144" width="3" height="1" fill="#0000ff"/>
<rect x="426" y="144" width="3" height="1" fill="#0000ff"/>
<rect x="432" y="144" width="3" height="1" fill="#0000ff"/>
<rect x="438" y="144" width="3" height="1" fill="#0000ff"/>
<rect x="444" y="144" width="3" height="1" fill="#0000ff"/>
<rect x="450" y="144" width="3" height="1" fill="#0000ff"/>
<rect x="456" y="144" width="3" height="1" fill="#0000ff"/>
<rect x="462" y="144" width="3" height="1" fill="#0000ff"/>
<rect x="468" y="144" width="3" height="1" fill="#0000ff"/>
<rect x="474" y="144" width="3" height="1" fill="#0000ff"/>
<rect x="480" y="144" width="3" height="1" fill="#0000ff"/>
<rect x="486" y="144" width="3" height="1" fill="#0000ff"/>
<rect x="492" y="144" width="3" height="1" fill="#0000ff"/>
<rect x="498" y="144" width="3" height="1" fill="#0000ff"/>
<rect x="504" y="144" width="3" height="1" fill="#0000ff"/>
<rect x="510" y="144" width="3" height="1" fill="#0000ff"/>
<rect x="516" y="144" width="3" height="1" fill="#0000ff"/>
<rect x="522" y="144" width="3" height="1" fill="#0000ff"/>
<rect x="528" y="144" width="3" height="1" fill="#0000ff"/>
<rect x="534" y="144" width="3" height="1" fill="#0000ff"/>
<rect x="540" y="144" width="3" height="1" fill="#0000ff"/>
<rect x="546" y="144" width="3" height="1" fill="#0000ff"/>
<rect x="552" y="144" width="3" height="1" fill="#0000ff"/>
<rect x="558" y="144" width="3" height="1" fill="#0000ff"/>
<rect x="564" y="144" width="3" height="1" fill="#0000ff"/>
<rect x="570" y="144" width="3" height="1" fill="#0000ff"/>
<rect x="576" y="144" width="3" height="1" fill="#0000ff"/>
<rect x="582" y="144" width="3" height="1" fill="#0000ff"/>
<rect x="588" y="144" width="3" height="1" fill="#0000ff"/>
<rect x="594" y="144" width="3" height="1" fill="#0000ff"/>
<rect x="600" y="144" width="3" height="1" fill="#0000ff"/>
<rect x="606" y="144" width="3" height="1" fill="#0000ff"/>
<rect x="612" y="144" width="3" height="1" fill="#0000ff"/>
<rect x="618" y="144" width="3" height="1" fill="#0000ff"/>
<rect x="624" y="144" width="3" height="1" fill="#0000ff"/>
<rect x="630" y="144" width="3" height="1" fill="#0000ff"/>
<rect x="636" y="144" width="3" height="1" fill="#0000ff"/>
<rect x="642" y="144" width="3" height="1" fill="#0000ff"/>
<rect x="648" y="144" width="3" height="1" fill="#0000ff"/>
<rect x="654" y="144" width="3" height="1" fill="#0000ff"/>
<rect x="660" y="144" width="3" height="1" fill="#0000ff"/>
<rect x="666" y="144" width="3" height="1" fill="#0000ff"/>
<rect x="672" y="144" width="3" height="1" fill="#0000ff"/>
<rect x="678" y="144" width="3" height="1" fill="#0000ff"/>
<rect x="684" y="144" width="3" height="1" fill="#0000ff"/>
<rect x="690" y="144" width="3" height="1" fill="#0000ff"/>
<rect x="696" y="144" width="3" height="1" fill="#0000ff"/>
<rect x="702" y="144" width="3" height="1" fill="#0000ff"/>
<rect x="708" y="144" width="3" height="1" fill="#0000ff"/>
<rect x="714" y="144" width="3" height="1" fill="#0000ff"/>
<rect x="720" y="144" width="3" height="1" fill="#0000ff"/>
<rect x="726" y="144" width="3" height="1" fill="#0000ff"/>
<rect x="732" y="144" width="3" height="1" fill="#0000ff"/>
<rect x="738" y="144" width="3" height="1" fill="#0000ff"/>
<rect x="744" y="144" width="3" height="1" fill="#0000ff"/>
<rect x="750" y="144" width="3" height="1" fill="#0000ff"/>
<rect x="756" y="144" width="3" height="1" fill="#0000ff"/>
<rect x="762" y="144" width="3" height="1" fill="#0000ff"/>
<rect x="768" y="144" width="3" height="1" fill="#0000ff"/>
<rect x="774" y="144" width="3" height="1" fill="#0000ff"/>
<rect x="780" y="144" width="3" height="1" fill="#0000ff"/>
<rect x="786" y="144" width="3" height="1" fill="#0000ff"/>
<rect x="792" y="144" width="3" height="1" fill="#0000ff"/>
<rect x="798" y="144" width="3" height="1" fill="#0000ff"/>
<rect x="804" y="144" width="3" height="1" fill="#0000ff"/>
<rect x="810" y="144" width="3" height="1" fill="#0000ff"/>
<rect x="816" y="144" width="3" height="1" fill="#0000ff"/>
<rect x="822" y="144" width="3" height="1" fill="#0000ff"/>
<rect x="828" y="144" width="3" height="1" fill="#0000ff"/>
<rect x="834" y="144" width="3" height="1" fill="#0000ff"/>
<rect x="840" y="144" width="3" height="1" fill="#0000ff"/>
<rect x="846" y="144" width="3" height="1" fill="#0000ff"/>
<rect x="852" y="144" width="3" height="1" fill="#0000ff"/>
<rect x="858" y="144" width="3" height="1" fill="#0000ff"/>
<rect x="864" y="144" width="3" height="1" fill="#0000ff"/>
<rect x="870" y="144" width="3" height="1" fill="#0000ff"/>
<rect x="876" y="144" width="3" height="1" fill="#0000ff"/>
<rect x="882" y="144" width="3" height="1" fill="#0000ff"/>
<rect x="888" y="144" width="3" height="1" fill="#0000ff"/>
<rect x="894" y="144" width="3" height="1" fill="#0000ff"/>
<rect x="900" y="144" width="3" height="1" fill="#0000ff"/>
<rect x="906" y="144" width="3" height="1" fill="#0000ff"/>
<rect x="912" y="144" width="3" height="1" fill="#0000ff"/>
<rect x="918" y="144" width="3" height="1" fill="#0000ff"/>
<rect x="924" y="144" width="3" height="1" fill="#0000ff"/>
<rect x="930" y="144" width="3" height="1" fill="#0000ff"/>
<rect x="736" y="290" width="3" height="1" fill="#000000"/>
<rect x="742" y="290" width="3" height="1" fill="#000000"/>
<rect x="748" y="290" width="3" height="1" fill="#000000"/>
<rect x="754" y="290" width="3" height="1" fill="#000000"/>
<rect x="760" y="290" width="3" height="1" fill="#000000"/>
<rect x="766" y="290" width="3" height="1" fill="#000000"/>
<rect x="772" y="290" width="3" height="1" fill="#000000"/>
<rect x="778" y="290" width="3" height="1" fill="#000000"/>
<rect x="784" y="290" width="3" height="1" fill="#000000"/>
<rect x="790" y="290" width="3" height="1" fill="#000000"/>
<rect x="796" y="290" width="3" height="1" fill="#000000"/>
<rect x="802" y="290" width="3" height="1" fill="#000000"/>
<rect x="808" y="290" width="3" height="1" fill="#000000"/>
<rect x="814" y="290" width="3" height="1" fill="#000000"/>
<rect x="820" y="290" width="3" height="1" fill="#000000"/>
<rect x="826" y="290" width="3" height="1" fill="#000000"/>
<rect x="832" y="290" width="3" height="1" fill="#000000"/>
<rect x="838" y="290" width="3" height="1" fill="#000000"/>
<rect x="844" y="290" width="3" height="1" fill="#000000"/>
<rect x="850" y="290" width="3" height="1" fill="#000000"/>
<rect x="856" y="290" width="3" height="1" fill="#000000"/>
<rect x="862" y="290" width="3" height="1" fill="#000000"/>
<rect x="868" y="290" width="3" height="1" fill="#000000"/>
<rect x="874" y="290" width="3" height="1" fill="#000000"/>
<rect x="880" y="290" width="3" height="1" fill="#000000"/>
<rect x="886" y="290" width="3" height="1" fill="#000000"/>
<rect x="892" y="290" width="3" height="1" fill="#000000"/>
<rect x="898" y="290" width="3" height="1" fill="#000000"/>
<rect x="904" y="290" width="3" height="1" fill="#000000"/>
<rect x="910" y="290" width="3" height="1" fill="#000000"/>
<rect x="916" y="290" width="3" height="1" fill="#000000"/>
<rect x="922" y="290" width="3" height="1" fill="#000000"/>
<rect x="928" y="290" width="3" height="1" fill="#000000"/>
<rect x="934" y="290" width="1" height="1" fill="#000000"/>
<rect x="743" y="417" width="3" height="1" fill="#000000"/>
<rect x="749" y="417" width="3" height="1" fill="#000000"/>
<rect x="755" y="417" width="3" height="1" fill="#000000"/>
<rect x="761" y="417" width="3" height="1" fill="#000000"/>
<rect x="767" y="417" width="3" height="1" fill="#000000"/>
<rect x="773" y="417" width="3" height="1" fill="#000000"/>
<rect x="779" y="417" width="3" height="1" fill="#000000"/>
<rect x="785" y="417" width="3" height="1" fill="#000000"/>
<rect x="791" y="417" width="3" height="1" fill="#000000"/>
<rect x="797" y="417" width="3" height="1" fill="#000000"/>
<rect x="803" y="417" width="3" height="1" fill="#000000"/>
<rect x="809" y="417" width="3" height="1" fill="#000000"/>
<rect x="815" y="417" width="3" height="1" fill="#000000"/>
<rect x="821" y="417" width="3" height="1" fill="#000000"/>
<rect x="827" y="417" width="3" height="1" fill="#000000"/>
<rect x="833" y="417" width="3" height="1" fill="#000000"/>
<rect x="839" y="417" width="3" height="1" fill="#000000"/>
<rect x="845" y="417" width="3" height="1" fill="#000000"/>
<rect x="851" y="417" width="3" height="1" fill="#000000"/>
<rect x="857" y="417" width="3" height="1" fill="#000000"/>
<rect x="863" y="417" width="3" height="1" fill="#000000"/>
<rect x="869" y="417" width="3" height="1" fill="#000000"/>
<rect x="875" y="417" width="3" height="1" fill="#000000"/>
<rect x="881" y="417" width="3" height="1" fill="#000000"/>
<rect x="887" y="417" width="3" height="1" fill="#000000"/>
<rect x="893" y="417" width="3" height="1" fill="#000000"/>
<rect x="899" y="417" width="3" height="1" fill="#000000"/>
<rect x="905" y="417" width="3" height="1" fill="#000000"/>
<rect x="911" y="417" width="3" height="1" fill="#000000"/>
<rect x="917" y="417" width="3" height="1" fill="#000000"/>
<rect x="923" y="417" width="3" height="1" fill="#000000"/>
<rect x="929" y="417" width="3" height="1" fill="#000000"/>
<rect x="0" y="11" width="1" height="1" fill="#b4b4b4"/>
<rect x="1" y="12" width="2" height="1" fill="#b4b4b4"/>
<rect x="3" y="13" width="1" height="1" fill="#b4b4b4"/>
<rect x="4" y="14" width="2" height="1" fill="#b4b4b4"/>
<rect x="6" y="15" width="2" height="1" fill="#b4b4b4"/>
<rect x="8" y="16" width="2" height="1" fill="#b4b4b4"/>
<rect x="10" y="17" width="1" height="1" fill="#b4b4b4"/>
<rect x="11" y="18" width="2" height="1" fill="#b4b4b4"/>
<rect x="13" y="19" width="2" height="1" fill="#b4b4b4"/>
<rect x="15" y="20" width="2" height="1" fill="#b4b4b4"/>
<rect x="17" y="21" width="1" height="1" fill="#b4b4b4"/>
<rect x="18" y="22" width="2" height="1" fill="#b4b4b4"/>
<rect x="20" y="23" width="2" height="1" fill="#b4b4b4"/>
<rect x="22" y="24" width="2" height="1" fill="#b4b4b4"/>
<rect x="24" y="25" width="1" height="1" fill="#b4b4b4"/>
<rect x="25" y="26" width="2" height="1" fill="#b4b4b4"/>
<rect x="27" y="27" width="2" height="1" fill="#b4b4b4"/>
<rect x="29" y="28" width="1" height="1" fill="#b4b4b4"/>
<rect x="30" y="29" width="2" height="1" fill="#b4b4b4"/>
<rect x="32" y="30" width="2" height="1" fill="#b4b4b4"/>
<rect x="34" y="31" width="2" height="1" fill="#b4b4b4"/>
<rect x="36" y="32" width="1" height="1" fill="#b4b4b4"/>
<rect x="37" y="33" width="2" height="1" fill="#b4b4b4"/>
<rect x="39" y="34" width="2" height="1" fill="#b4b4b4"/>
<rect x="41" y="35" width="2" height="1" fill="#b4b4b4"/>
<rect x="43" y="36" width="1" height="1" fill="#b4b4b4"/>
<rect x="44" y="37" width="2" height="1" fill="#b4b4b4"/>
<rect x="46" y="38" width="2" height="1" fill="#b4b4b4"/>
<rect x="48" y="39" width="2" height="1" fill="#b4b4b4"/>
<rect x="50" y="40" width="1" height="1" fill="#b4b4b4"/>
<rect x="51" y="41" width="2" height="1" fill="#b4b4b4"/>
<rect x="53" y="42" width="2" height="1" fill="#b4b4b4"/>
<rect x="55" y="43" width="2" height="1" fill="#b4b4b4"/>
<rect x="57" y="44" width="1" height="1" fill="#b4b4b4"/>
<rect x="58" y="45" width="2" height="1" fill="#b4b4b4"/>
<rect x="60" y="46" width="2" height="1" fill="#b4b4b4"/>
<rect x="62" y="47" width="2" height="1" fill="#b4b4b4"/>
<rect x="64" y="48" width="1" height="1" fill="#b4b4b4"/>
<rect x="65" y="49" width="2" height="1" fill="#b4b4b4"/>
<rect x="67" y="50" width="2" height="1" fill="#b4b4b4"/>
<rect x="69" y="51" width="2" height="1" fill="#b4b4b4"/>
<rect x="71" y="52" width="1" height="1" fill="#b4b4b4"/>
<rect x="72" y="53" width="2" height="1" fill="#b4b4b4"/>
<rect x="74" y="54" width="2" height="1" fill="#b4b4b4"/>
<rect x="76" y="55" width="2" height="1" fill="#b4b4b4"/>
<rect x="78" y="56" width="1" height="1" fill="#b4b4b4"/>
<rect x="79" y="57" width="2" height="1" fill="#b4b4b4"/>
<rect x="81" y="58" width="2" height="1" fill="#b4b4b4"/>
<rect x="83" y="59" width="1" height="1" fill="#b4b4b4"/>
<rect x="84" y="60" width="2" height="1" fill="#b4b4b4"/>
<rect x="86" y="61" width="2" height="1" fill="#b4b4b4"/>
<rect x="88" y="62" width="2" height="1" fill="#b4b4b4"/>
<rect x="90" y="63" width="1" height="1" fill="#b4b4b4"/>
<rect x="91" y="64" width="2" height="1" fill="#b4b4b4"/>
<rect x="93" y="65" width="2" height="1" fill="#b4b4b4"/>
<rect x="95" y="66" width="2" height="1" fill="#b4b4b4"/>
<rect x="97" y="67" width="1" height="1" fill="#b4b4b4"/>
<rect x="98" y="68" width="2" height="1" fill="#b4b4b4"/>
<rect x="100" y="69" width="2" height="1" fill="#b4b4b4"/>
<rect x="102" y="70" width="2" height="1" fill="#b4b4b4"/>
<rect x="104" y="71" width="1" height="1" fill="#b4b4b4"/>
<rect x="105" y="72" width="2" height="1" fill="#b4b4b4"/>
<rect x="107" y="73" width="2" height="1" fill="#b4b4b4"/>
<rect x="109" y="74" width="2" height="1" fill="#b4b4b4"/>
<rect x="111" y="75" width="1" height="1" fill="#b4b4b4"/>
<rect x="112" y="76" width="2" height="1" fill="#b4b4b4"/>
<rect x="114" y="77" width="2" height="1" fill="#b4b4b4"/>
<rect x="116" y="78" width="2" height="1" fill="#b4b4b4"/>
<rect x="118" y="79" width="1" height="1" fill="#b4b4b4"/>
<rect x="119" y="80" width="2" height="1" fill="#b4b4b4"/>
<rect x="121" y="81" width="2" height="1" fill="#b4b4b4"/>
<rect x="123" y="82" width="2" height="1" fill="#b4b4b4"/>
<rect x="125" y="83" width="1" height="1" fill="#b4b4b4"/>
<rect x="126" y="84" width="2" height="1" fill="#b4b4b4"/>
<rect x="128" y="85" width="2" height="1" fill="#b4b4b4"/>
<rect x="130" y="86" width="2" height="1" fill="#b4b4b4"/>
<rect x="132" y="87" width="1" height="1" fill="#b4b4b4"/>
<rect x="133" y="88" width="2" height="1" fill="#b4b4b4"/>
<rect x="135" y="89" width="2" height="1" fill="#b4b4b4"/>
<rect x="137" y="90" width="2" height="1" fill="#b4b4b4"/>
<rect x="139" y="91" width="1" height="1" fill="#b4b4b4"/>
<rect x="140" y="92" width="2" height="1" fill="#b4b4b4"/>
<rect x="142" y="93" width="2" height="1" fill="#b4b4b4"/>
<rect x="144" y="94" width="1" height="1" fill="#b4b4b4"/>
<rect x="145" y="95" width="2" height="1" fill="#b4b4b4"/>
<rect x="147" y="96" width="2" height="1" fill="#b4b4b4"/>
<rect x="149" y="97" width="2" height="1" fill="#b4b4b4"/>
<rect x="151" y="98" width="1" height="1" fill="#b4b4b4"/>
<rect x="152" y="99" width="2" height="1" fill="#b4b4b4"/>
<rect x="154" y="100" width="2" height="1" fill="#b4b4b4"/>
<rect x="156" y="101" width="2" height="1" fill="#b4b4b4"/>
<rect x="158" y="102" width="1" height="1" fill="#b4b4b4"/>
<rect x="159" y="103" width="2" height="1" fill="#b4b4b4"/>
<rect x="161" y="104" width="2" height="1" fill="#b4b4b4"/>
<rect x="163" y="105" width="2" height="1" fill="#b4b4b4"/>
<rect x="165" y="106" width="1" height="1" fill="#b4b4b4"/>
<rect x="166" y="107" width="2" height="1" fill="#b4b4b4"/>
<rect x="168" y="108" width="2" height="1" fill="#b4b4b4"/>
<rect x="170" y="109" width="2" height="1" fill="#b4b4b4"/>
<rect x="172" y="110" width="1" height="1" fill="#b4b4b4"/>
<rect x="173" y="111" width="2" height="1" fill="#b4b4b4"/>
<rect x="175" y="112" width="2" height="1" fill="#b4b4b4"/>
<rect x="177" y="113" width="2" height="1" fill="#b4b4b4"/>
<rect x="179" y="114" width="1" height="1" fill="#b4b4b4"/>
<rect x="180" y="115" width="2" height="1" fill="#b4b4b4"/>
<rect x="182" y="116" width="2" height="1" fill="#b4b4b4"/>
<rect x="184" y="117" width="2" height="1" fill="#b4b4b4"/>
<rect x="186" y="118" width="1" height="1" fill="#b4b4b4"/>
<rect x="187" y="119" width="2" height="1" fill="#b4b4b4"/>
<rect x="189" y="120" width="2" height="1" fill="#b4b4b4"/>
<rect x="191" y="121" width="2" height="1" fill="#b4b4b4"/>
<rect x="193" y="122" width="1" height="1" fill="#b4b4b4"/>
<rect x="194" y="123" width="2" height="1" fill="#b4b4b4"/>
<rect x="196" y="124" width="2" height="1" fill="#b4b4b4"/>
<rect x="198" y="125" width="1" height="1" fill="#b4b4b4"/>
<rect x="199" y="126" width="2" height="1" fill="#b4b4b4"/>
<rect x="201" y="127" width="2" height="1" fill="#b4b4b4"/>
<rect x="203" y="128" width="2" height="1" fill="#b4b4b4"/>
<rect x="205" y="129" width="1" height="1" fill="#b4b4b4"/>
<rect x="206" y="130" width="2" height="1" fill="#b4b4b4"/>
<rect x="208" y="131" width="2" height="1" fill="#b4b4b4"/>
<rect x="210" y="132" width="2" height="1" fill="#b4b4b4"/>
<rect x="212" y="133" width="1" height="1" fill="#b4b4b4"/>
<rect x="213" y="134" width="2" height="1" fill="#b4b4b4"/>
<rect x="215" y="135" width="2" height="1" fill="#b4b4b4"/>
<rect x="217" y="136" width="2" height="1" fill="#b4b4b4"/>
<rect x="219" y="137" width="1" height="1" fill="#b4b4b4"/>
<rect x="220" y="138" width="2" height="1" fill="#b4b4b4"/>
<rect x="222" y="139" width="2" height="1" fill="#b4b4b4"/>
<rect x="224" y="140" width="2" height="1" fill="#b4b4b4"/>
<rect x="226" y="141" width="1" height="1" fill="#b4b4b4"/>
<rect x="227" y="142" width="2" height="1" fill="#b4b4b4"/>
<rect x="229" y="143" width="2" height="1" fill="#b4b4b4"/>
<rect x="231" y="144" width="2" height="1" fill="#b4b4b4"/>
<rect x="233" y="145" width="1" height="1" fill="#b4b4b4"/>
<rect x="234" y="146" width="2" height="1" fill="#b4b4b4"/>
<rect x="236" y="147" width="2" height="1" fill="#b4b4b4"/>
<rect x="238" y="148" width="2" height="1" fill="#b4b4b4"/>
<rect x="240" y="149" width="1" height="1" fill="#b4b4b4"/>
<rect x="241" y="150" width="2" height="1" fill="#b4b4b4"/>
<rect x="243" y="151" width="2" height="1" fill="#b4b4b4"/>
<rect x="245" y="152" width="2" height="1" fill="#b4b4b4"/>
<rect x="247" y="153" width="1" height="1" fill="#b4b4b4"/>
<rect x="248" y="154" width="2" height="1" fill="#b4b4b4"/>
<rect x="250" y="155" width="2" height="1" fill="#b4b4b4"/>
<rect x="252" y="156" width="2" height="1" fill="#b4b4b4"/>
<rect x="254" y="157" width="1" height="1" fill="#b4b4b4"/>
<rect x="255" y="158" width="2" height="1" fill="#b4b4b4"/>
<rect x="257" y="159" width="2" height="1" fill="#b4b4b4"/>
<rect x="259" y="160" width="1" height="1" fill="#b4b4b4"/>
<rect x="260" y="161" width="2" height="1" fill="#b4b4b4"/>
<rect x="262" y="162" width="2" height="1" fill="#b4b4b4"/>
<rect x="264" y="163" width="2" height="1" fill="#b4b4b4"/>
<rect x="266" y="164" width="1" height="1" fill="#b4b4b4"/>
<rect x="267" y="165" width="2" height="1" fill="#b4b4b4"/>
<rect x="269" y="166" width="2" height="1" fill="#b4b4b4"/>
<rect x="271" y="167" width="2" height="1" fill="#b4b4b4"/>
<rect x="273" y="168" width="1" height="1" fill="#b4b4b4"/>
<rect x="274" y="169" width="2" height="1" fill="#b4b4b4"/>
<rect x="276" y="170" width="2" height="1" fill="#b4b4b4"/>
<rect x="278" y="171" width="2" height="1" fill="#b4b4b4"/>
<rect x="280" y="172" width="1" height="1" fill="#b4b4b4"/>
<rect x="281" y="173" width="2" height="1" fill="#b4b4b4"/>
<rect x="283" y="174" width="2" height="1" fill="#b4b4b4"/>
<rect x="285" y="175" width="2" height="1" fill="#b4b4b4"/>
<rect x="287" y="176" width="1" height="1" fill="#b4b4b4"/>
<rect x="288" y="177" width="2" height="1" fill="#b4b4b4"/>
<rect x="290" y="178" width="2" height="1" fill="#b4b4b4"/>
<rect x="292" y="179" width="2" height="1" fill="#b4b4b4"/>
<rect x="294" y="180" width="1" height="1" fill="#b4b4b4"/>
<rect x="295" y="181" width="2" height="1" fill="#b4b4b4"/>
<rect x="297" y="182" width="2" height="1" fill="#b4b4b4"/>
<rect x="299" y="183" width="2" height="1" fill="#b4b4b4"/>
<rect x="301" y="184" width="1" height="1" fill="#b4b4b4"/>
<rect x="302" y="185" width="2" height="1" fill="#b4b4b4"/>
<rect x="304" y="186" width="2" height="1" fill="#b4b4b4"/>
<rect x="306" y="187" width="2" height="1" fill="#b4b4b4"/>
<rect x="308" y="188" width="1" height="1" fill="#b4b4b4"/>
<rect x="309" y="189" width="2" height="1" fill="#b4b4b4"/>
<rect x="311" y="190" width="2" height="1" fill="#b4b4b4"/>
<rect x="313" y="191" width="2" height="1" fill="#b4b4b4"/>
<rect x="315" y="192" width="1" height="1" fill="#b4b4b4"/>
<rect x="316" y="193" width="2" height="1" fill="#b4b4b4"/>
<rect x="318" y="194" width="2" height="1" fill="#b4b4b4"/>
<rect x="320" y="195" width="1" height="1" fill="#b4b4b4"/>
<rect x="321" y="196" width="2" height="1" fill="#b4b4b4"/>
<rect x="323" y="197" width="2" height="1" fill="#b4b4b4"/>
<rect x="325" y="198" width="2" height="1" fill="#b4b4b4"/>
<rect x="327" y="199" width="1" height="1" fill="#b4b4b4"/>
<rect x="328" y="200" width="2" height="1" fill="#b4b4b4"/>
<rect x="330" y="201" width="2" height="1" fill="#b4b4b4"/>
<rect x="332" y="202" width="2" height="1" fill="#b4b4b4"/>
<rect x="334" y="203" width="1" height="1" fill="#b4b4b4"/>
<rect x="335" y="204" width="2" height="1" fill="#b4b4b4"/>
<rect x="337" y="205" width="2" height="1" fill="#b4b4b4"/>
<rect x="339" y="206" width="2" height="1" fill="#b4b4b4"/>
<rect x="341" y="207" width="1" height="1" fill="#b4b4b4"/>
<rect x="342" y="208" width="2" height="1" fill="#b4b4b4"/>
<rect x="344" y="209" width="2" height="1" fill="#b4b4b4"/>
<rect x="346" y="210" width="2" height="1" fill="#b4b4b4"/>
<rect x="348" y="211" width="1" height="1" fill="#b4b4b4"/>
<rect x="349" y="212" width="2" height="1" fill="#b4b4b4"/>
<rect x="351" y="213" width="2" height="1" fill="#b4b4b4"/>
<rect x="353" y="214" width="2" height="1" fill="#b4b4b4"/>
<rect x="355" y="215" width="1" height="1" fill="#b4b4b4"/>
<rect x="356" y="216" width="2" height="1" fill="#b4b4b4"/>
<rect x="358" y="217" width="2" height="1" fill="#b4b4b4"/>
<rect x="360" y="218" width="2" height="1" fill="#b4b4b4"/>
<rect x="362" y="219" width="1" height="1" fill="#b4b4b4"/>
<rect x="363" y="220" width="2" height="1" fill="#b4b4b4"/>
<rect x="365" y="221" width="2" height="1" fill="#b4b4b4"/>
<rect x="367" y="222" width="2" height="1" fill="#b4b4b4"/>
<rect x="369" y="223" width="1" height="1" fill="#b4b4b4"/>
<rect x="370" y="224" width="2" height="1" fill="#b4b4b4"/>
<rect x="372" y="225" width="2" height="1" fill="#b4b4b4"/>
<rect x="374" y="226" width="1" height="1" fill="#b4b4b4"/>
<rect x="375" y="227" width="2" height="1" fill="#b4b4b4"/>
<rect x="377" y="228" width="2" height="1" fill="#b4b4b4"/>
<rect x="379" y="229" width="2" height="1" fill="#b4b4b4"/>
<rect x="381" y="230" width="1" height="1" fill="#b4b4b4"/>
<rect x="382" y="231" width="2" height="1" fill="#b4b4b4"/>
<rect x="384" y="232" width="2" height="1" fill="#b4b4b4"/>
<rect x="386" y="233" width="2" height="1" fill="#b4b4b4"/>
<rect x="388" y="234" width="1" height="1" fill="#b4b4b4"/>
<rect x="389" y="235" width="2" height="1" fill="#b4b4b4"/>
<rect x="391" y="236" width="2" height="1" fill="#b4b4b4"/>
<rect x="393" y="237" width="2" height="1" fill="#b4b4b4"/>
<rect x="395" y="238" width="1" height="1" fill="#b4b4b4"/>
<rect x="396" y="239" width="2" height="1" fill="#b4b4b4"/>
<rect x="398" y="240" width="2" height="1" fill="#b4b4b4"/>
<rect x="400" y="241" width="2" height="1" fill="#b4b4b4"/>
<rect x="402" y="242" width="1" height="1" fill="#b4b4b4"/>
<rect x="223" y="97" width="2" height="1" fill="#b4b4b4"/>
<rect x="225" y="98" width="3" height="1" fill="#b4b4b4"/>
<rect x="228" y="99" width="2" height="1" fill="#b4b4b4"/>
<rect x="230" y="100" width="3" height="1" fill="#b4b4b4"/>
<rect x="233" y="101" width="2" height="1" fill="#b4b4b4"/>
<rect x="235" y="102" width="3" height="1" fill="#b4b4b4"/>
<rect x="238" y="103" width="2" height="1" fill="#b4b4b4"/>
<rect x="240" y="104" width="2" height="1" fill="#b4b4b4"/>
<rect x="242" y="105" width="3" height="1" fill="#b4b4b4"/>
<rect x="245" y="106" width="2" height="1" fill="#b4b4b4"/>
<rect x="247" y="107" width="3" height="1" fill="#b4b4b4"/>
<rect x="250" y="108" width="2" height="1" fill="#b4b4b4"/>
<rect x="252" y="109" width="3" height="1" fill="#b4b4b4"/>
<rect x="255" y="110" width="2" height="1" fill="#b4b4b4"/>
<rect x="257" y="111" width="2" height="1" fill="#b4b4b4"/>
<rect x="259" y="112" width="3" height="1" fill="#b4b4b4"/>
<rect x="262" y="113" width="2" height="1" fill="#b4b4b4"/>
<rect x="264" y="114" width="3" height="1" fill="#b4b4b4"/>
<rect x="267" y="115" width="2" height="1" fill="#b4b4b4"/>
<rect x="269" y="116" width="3" height="1" fill="#b4b4b4"/>
<rect x="272" y="117" width="2" height="1" fill="#b4b4b4"/>
<rect x="274" y="118" width="2" height="1" fill="#b4b4b4"/>
<rect x="276" y="119" width="3" height="1" fill="#b4b4b4"/>
<rect x="279" y="120" width="2" height="1" fill="#b4b4b4"/>
<rect x="281" y="121" width="3" height="1" fill="#b4b4b4"/>
<rect x="284" y="122" width="2" height="1" fill="#b4b4b4"/>
<rect x="286" y="123" width="3" height="1" fill="#b4b4b4"/>
<rect x="289" y="124" width="2" height="1" fill="#b4b4b4"/>
<rect x="291" y="125" width="2" height="1" fill="#b4b4b4"/>
<rect x="293" y="126" width="3" height="1" fill="#b4b4b4"/>
<rect x="296" y="127" width="2" height="1" fill="#b4b4b4"/>
<rect x="298" y="128" width="3" height="1" fill="#b4b4b4"/>
<rect x="301" y="129" width="2" height="1" fill="#b4b4b4"/>
<rect x="303" y="130" width="3" height="1" fill="#b4b4b4"/>
<rect x="306" y="131" width="2" height="1" fill="#b4b4b4"/>
<rect x="308" y="132" width="2" height="1" fill="#b4b4b4"/>
<rect x="310" y="133" width="3" height="1" fill="#b4b4b4"/>
<rect x="313" y="134" width="2" height="1" fill="#b4b4b4"/>
<rect x="315" y="135" width="3" height="1" fill="#b4b4b4"/>
<rect x="318" y="136" width="2" height="1" fill="#b4b4b4"/>
<rect x="320" y="137" width="3" height="1" fill="#b4b4b4"/>
<rect x="323" y="138" width="2" height="1" fill="#b4b4b4"/>
<rect x="325" y="139" width="2" height="1" fill="#b4b4b4"/>
<rect x="327" y="140" width="3" height="1" fill="#b4b4b4"/>
<rect x="330" y="141" width="2" height="1" fill="#b4b4b4"/>
<rect x="332" y="142" width="3" height="1" fill="#b4b4b4"/>
<rect x="335" y="143" width="2" height="1" fill="#b4b4b4"/>
<rect x="337" y="144" width="3" height="1" fill="#b4b4b4"/>
<rect x="340" y="145" width="2" height="1" fill="#b4b4b4"/>
<rect x="342" y="146" width="2" height="1" fill="#b4b4b4"/>
<rect x="344" y="147" width="3" height="1" fill="#b4b4b4"/>
<rect x="347" y="148" width="2" height="1" fill="#b4b4b4"/>
<rect x="349" y="149" width="3" height="1" fill="#b4b4b4"/>
<rect x="352" y="150" width="2" height="1" fill="#b4b4b4"/>
<rect x="354" y="151" width="3" height="1" fill="#b4b4b4"/>
<rect x="357" y="152" width="2" height="1" fill="#b4b4b4"/>
<rect x="359" y="153" width="2" height="1" fill="#b4b4b4"/>
<rect x="361" y="154" width="3" height="1" fill="#b4b4b4"/>
<rect x="364" y="155" width="2" height="1" fill="#b4b4b4"/>
<rect x="366" y="156" width="3" height="1" fill="#b4b4b4"/>
<rect x="369" y="157" width="2" height="1" fill="#b4b4b4"/>
<rect x="371" y="158" width="3" height="1" fill="#b4b4b4"/>
<rect x="374" y="159" width="2" height="1" fill="#b4b4b4"/>
<rect x="376" y="160" width="2" height="1" fill="#b4b4b4"/>
<rect x="378" y="161" width="3" height="1" fill="#b4b4b4"/>
<rect x="381" y="162" width="2" height="1" fill="#b4b4b4"/>
<rect x="383" y="163" width="3" height="1" fill="#b4b4b4"/>
<rect x="386" y="164" width="2" height="1" fill="#b4b4b4"/>
<rect x="388" y="165" width="3" height="1" fill="#b4b4b4"/>
<rect x="391" y="166" width="2" height="1" fill="#b4b4b4"/>
<rect x="393" y="167" width="2" height="1" fill="#b4b4b4"/>
<rect x="395" y="168" width="3" height="1" fill="#b4b4b4"/>
<rect x="398" y="169" width="2" height="1" fill="#b4b4b4"/>
<rect x="400" y="170" width="3" height="1" fill="#b4b4b4"/>
<rect x="403" y="171" width="2" height="1" fill="#b4b4b4"/>
<rect x="405" y="172" width="3" height="1" fill="#b4b4b4"/>
<rect x="408" y="173" width="2" height="1" fill="#b4b4b4"/>
<rect x="410" y="174" width="1" height="1" fill="#b4b4b4"/>
<rect x="486" y="44" width="1" height="2" fill="#b4b4b4"/>
<rect x="485" y="46" width="1" height="2" fill="#b4b4b4"/>
<rect x="484" y="48" width="1" height="1" fill="#b4b4b4"/>
<rect x="483" y="49" width="1" height="2" fill="#b4b4b4"/>
<rect x="482" y="51" width="1" height="2" fill="#b4b4b4"/>
<rect x="481" y="53" width="1" height="1" fill="#b4b4b4"/>
<rect x="480" y="54" width="1" height="2" fill="#b4b4b4"/>
<rect x="479" y="56" width="1" height="2" fill="#b4b4b4"/>
<rect x="478" y="58" width="1" height="1" fill="#b4b4b4"/>
<rect x="477" y="59" width="1" height="2" fill="#b4b4b4"/>
<rect x="476" y="61" width="1" height="2" fill="#b4b4b4"/>
<rect x="475" y="63" width="1" height="1" fill="#b4b4b4"/>
<rect x="474" y="64" width="1" height="2" fill="#b4b4b4"/>
<rect x="473" y="66" width="1" height="2" fill="#b4b4b4"/>
<rect x="472" y="68" width="1" height="1" fill="#b4b4b4"/>
<rect x="471" y="69" width="1" height="2" fill="#b4b4b4"/>
<rect x="470" y="71" width="1" height="2" fill="#b4b4b4"/>
<rect x="469" y="73" width="1" height="1" fill="#b4b4b4"/>
<rect x="468" y="74" width="1" height="2" fill="#b4b4b4"/>
<rect x="467" y="76" width="1" height="2" fill="#b4b4b4"/>
<rect x="466" y="78" width="1" height="1" fill="#b4b4b4"/>
<rect x="465" y="79" width="1" height="2" fill="#b4b4b4"/>
<rect x="464" y="81" width="1" height="2" fill="#b4b4b4"/>
<rect x="463" y="83" width="1" height="1" fill="#b4b4b4"/>
<rect x="462" y="84" width="1" height="2" fill="#b4b4b4"/>
<rect x="461" y="86" width="1" height="2" fill="#b4b4b4"/>
<rect x="460" y="88" width="1" height="2" fill="#b4b4b4"/>
<rect x="459" y="90" width="1" height="1" fill="#b4b4b4"/>
<rect x="458" y="91" width="1" height="2" fill="#b4b4b4"/>
<rect x="457" y="93" width="1" height="2" fill="#b4b4b4"/>
<rect x="456" y="95" width="1" height="1" fill="#b4b4b4"/>
<rect x="455" y="96" width="1" height="2" fill="#b4b4b4"/>
<rect x="454" y="98" width="1" height="2" fill="#b4b4b4"/>
<rect x="453" y="100" width="1" height="1" fill="#b4b4b4"/>
<rect x="452" y="101" width="1" height="2" fill="#b4b4b4"/>
<rect x="451" y="103" width="1" height="2" fill="#b4b4b4"/>
<rect x="450" y="105" width="1" height="1" fill="#b4b4b4"/>
<rect x="449" y="106" width="1" height="2" fill="#b4b4b4"/>
<rect x="448" y="108" width="1" height="2" fill="#b4b4b4"/>
<rect x="447" y="110" width="1" height="1" fill="#b4b4b4"/>
<rect x="446" y="111" width="1" height="2" fill="#b4b4b4"/>
<rect x="445" y="113" width="1" height="2" fill="#b4b4b4"/>
<rect x="444" y="115" width="1" height="1" fill="#b4b4b4"/>
<rect x="443" y="116" width="1" height="2" fill="#b4b4b4"/>
<rect x="442" y="118" width="1" height="2" fill="#b4b4b4"/>
<rect x="441" y="120" width="1" height="1" fill="#b4b4b4"/>
<rect x="440" y="121" width="1" height="2" fill="#b4b4b4"/>
<rect x="439" y="123" width="1" height="2" fill="#b4b4b4"/>
<rect x="438" y="125" width="1" height="1" fill="#b4b4b4"/>
<rect x="437" y="126" width="1" height="2" fill="#b4b4b4"/>
<rect x="436" y="128" width="1" height="2" fill="#b4b4b4"/>
<rect x="435" y="130" width="1" height="1" fill="#b4b4b4"/>
<rect x="434" y="131" width="1" height="2" fill="#b4b4b4"/>
<rect x="433" y="133" width="1" height="2" fill="#b4b4b4"/>
<rect x="432" y="135" width="1" height="1" fill="#b4b4b4"/>
<rect x="431" y="136" width="1" height="2" fill="#b4b4b4"/>
<rect x="430" y="138" width="1" height="2" fill="#b4b4b4"/>
<rect x="429" y="140" width="1" height="1" fill="#b4b4b4"/>
<rect x="428" y="141" width="1" height="2" fill="#b4b4b4"/>
<rect x="427" y="143" width="1" height="2" fill="#b4b4b4"/>
<rect x="426" y="145" width="1" height="1" fill="#b4b4b4"/>
<rect x="425" y="146" width="1" height="2" fill="#b4b4b4"/>
<rect x="424" y="148" width="1" height="2" fill="#b4b4b4"/>
<rect x="423" y="150" width="1" height="1" fill="#b4b4b4"/>
<rect x="422" y="151" width="1" height="2" fill="#b4b4b4"/>
<rect x="421" y="153" width="1" height="2" fill="#b4b4b4"/>
<rect x="420" y="155" width="1" height="1" fill="#b4b4b4"/>
<rect x="419" y="156" width="1" height="2" fill="#b4b4b4"/>
<rect x="418" y="158" width="1" height="2" fill="#b4b4b4"/>
<rect x="417" y="160" width="1" height="1" fill="#b4b4b4"/>
<rect x="416" y="161" width="1" height="2" fill="#b4b4b4"/>
<rect x="415" y="163" width="1" height="2" fill="#b4b4b4"/>
<rect x="414" y="165" width="1" height="2" fill="#b4b4b4"/>
<rect x="413" y="167" width="1" height="1" fill="#b4b4b4"/>
<rect x="412" y="168" width="1" height="2" fill="#b4b4b4"/>
<rect x="411" y="170" width="1" height="2" fill="#b4b4b4"/>
<rect x="410" y="172" width="1" height="1" fill="#b4b4b4"/>
<rect x="409" y="173" width="1" height="2" fill="#b4b4b4"/>
<rect x="408" y="175" width="1" height="2" fill="#b4b4b4"/>
<rect x="407" y="177" width="1" height="1" fill="#b4b4b4"/>
<rect x="406" y="178" width="1" height="2" fill="#b4b4b4"/>
<rect x="405" y="180" width="1" height="2" fill="#b4b4b4"/>
<rect x="404" y="182" width="1" height="1" fill="#b4b4b4"/>
<rect x="403" y="183" width="1" height="2" fill="#b4b4b4"/>
<rect x="402" y="185" width="1" height="2" fill="#b4b4b4"/>
<rect x="401" y="187" width="1" height="1" fill="#b4b4b4"/>
<rect x="400" y="188" width="1" height="2" fill="#b4b4b4"/>
<rect x="399" y="190" width="1" height="2" fill="#b4b4b4"/>
<rect x="398" y="192" width="1" height="1" fill="#b4b4b4"/>
<rect x="397" y="193" width="1" height="2" fill="#b4b4b4"/>
<rect x="396" y="195" width="1" height="2" fill="#b4b4b4"/>
<rect x="395" y="197" width="1" height="1" fill="#b4b4b4"/>
<rect x="394" y="198" width="1" height="2" fill="#b4b4b4"/>
<rect x="393" y="200" width="1" height="2" fill="#b4b4b4"/>
<rect x="392" y="202" width="1" height="1" fill="#b4b4b4"/>
<rect x="391" y="203" width="1" height="2" fill="#b4b4b4"/>
<rect x="390" y="205" width="1" height="2" fill="#b4b4b4"/>
<rect x="389" y="207" width="1" height="1" fill="#b4b4b4"/>
<rect x="388" y="208" width="1" height="2" fill="#b4b4b4"/>
<rect x="387" y="210" width="1" height="2" fill="#b4b4b4"/>
<rect x="386" y="212" width="1" height="1" fill="#b4b4b4"/>
<rect x="385" y="213" width="1" height="2" fill="#b4b4b4"/>
<rect x="384" y="215" width="1" height="2" fill="#b4b4b4"/>
<rect x="383" y="217" width="1" height="1" fill="#b4b4b4"/>
<rect x="382" y="218" width="1" height="2" fill="#b4b4b4"/>
<rect x="381" y="220" width="1" height="2" fill="#b4b4b4"/>
<rect x="380" y="222" width="1" height="1" fill="#b4b4b4"/>
<rect x="379" y="223" width="1" height="2" fill="#b4b4b4"/>
<rect x="378" y="225" width="1" height="2" fill="#b4b4b4"/>
<rect x="377" y="227" width="1" height="1" fill="#b4b4b4"/>
<rect x="376" y="228" width="1" height="2" fill="#b4b4b4"/>
<rect x="375" y="230" width="1" height="2" fill="#b4b4b4"/>
<rect x="374" y="232" width="1" height="1" fill="#b4b4b4"/>
<rect x="373" y="233" width="1" height="2" fill="#b4b4b4"/>
<rect x="372" y="235" width="1" height="2" fill="#b4b4b4"/>
<rect x="371" y="237" width="1" height="2" fill="#b4b4b4"/>
<rect x="456" y="37" width="1" height="1" fill="#0000ff"/>
<rect x="457" y="38" width="3" height="1" fill="#0000ff"/>
<rect x="460" y="39" width="2" height="1" fill="#0000ff"/>
<rect x="462" y="40" width="2" height="1" fill="#0000ff"/>
<rect x="464" y="41" width="3" height="1" fill="#0000ff"/>
<rect x="467" y="42" width="2" height="1" fill="#0000ff"/>
<rect x="469" y="43" width="2" height="1" fill="#0000ff"/>
<rect x="471" y="44" width="3" height="1" fill="#0000ff"/>
<rect x="474" y="45" width="2" height="1" fill="#0000ff"/>
<rect x="476" y="46" width="2" height="1" fill="#0000ff"/>
<rect x="478" y="47" width="3" height="1" fill="#0000ff"/>
<rect x="481" y="48" width="2" height="1" fill="#0000ff"/>
<rect x="483" y="49" width="2" height="1" fill="#0000ff"/>
<rect x="485" y="50" width="3" height="1" fill="#0000ff"/>
<rect x="488" y="51" width="2" height="1" fill="#0000ff"/>
<rect x="490" y="52" width="2" height="1" fill="#0000ff"/>
<rect x="492" y="53" width="3" height="1" fill="#0000ff"/>
<rect x="495" y="54" width="2" height="1" fill="#0000ff"/>
<rect x="497" y="55" width="2" height="1" fill="#0000ff"/>
<rect x="499" y="56" width="3" height="1" fill="#0000ff"/>
<rect x="502" y="57" width="2" height="1" fill="#0000ff"/>
<rect x="504" y="58" width="3" height="1" fill="#0000ff"/>
<rect x="507" y="59" width="2" height="1" fill="#0000ff"/>
<rect x="509" y="60" width="2" height="1" fill="#0000ff"/>
<rect x="511" y="61" width="3" height="1" fill="#0000ff"/>
<rect x="514" y="62" width="2" height="1" fill="#0000ff"/>
<rect x="516" y="63" width="2" height="1" fill="#0000ff"/>
<rect x="518" y="64" width="3" height="1" fill="#0000ff"/>
<rect x="521" y="65" width="2" height="1" fill="#0000ff"/>
<rect x="523" y="66" width="2" height="1" fill="#0000ff"/>
<rect x="525" y="67" width="3" height="1" fill="#0000ff"/>
<rect x="528" y="68" width="2" height="1" fill="#0000ff"/>
<rect x="530" y="69" width="2" height="1" fill="#0000ff"/>
<rect x="532" y="70" width="3" height="1" fill="#0000ff"/>
<rect x="535" y="71" width="2" height="1" fill="#0000ff"/>
<rect x="537" y="72" width="2" height="1" fill="#0000ff"/>
<rect x="539" y="73" width="3" height="1" fill="#0000ff"/>
<rect x="542" y="74" width="2" height="1" fill="#0000ff"/>
<rect x="544" y="75" width="2" height="1" fill="#0000ff"/>
<rect x="546" y="76" width="3" height="1" fill="#0000ff"/>
<rect x="549" y="77" width="2" height="1" fill="#0000ff"/>
<rect x="551" y="78" width="2" height="1" fill="#0000ff"/>
<rect x="553" y="79" width="3" height="1" fill="#0000ff"/>
<rect x="556" y="80" width="2" height="1" fill="#0000ff"/>
<rect x="558" y="81" width="2" height="1" fill="#0000ff"/>
<rect x="560" y="82" width="3" height="1" fill="#0000ff"/>
<rect x="563" y="83" width="2" height="1" fill="#0000ff"/>
<rect x="565" y="84" width="3" height="1" fill="#0000ff"/>
<rect x="568" y="85" width="2" height="1" fill="#0000ff"/>
<rect x="570" y="86" width="2" height="1" fill="#0000ff"/>
<rect x="572" y="87" width="3" height="1" fill="#0000ff"/>
<rect x="575" y="88" width="2" height="1" fill="#0000ff"/>
<rect x="577" y="89" width="2" height="1" fill="#0000ff"/>
<rect x="579" y="90" width="3" height="1" fill="#0000ff"/>
<rect x="582" y="91" width="2" height="1" fill="#0000ff"/>
<rect x="584" y="92" width="2" height="1" fill="#0000ff"/>
<rect x="586" y="93" width="3" height="1" fill="#0000ff"/>
<rect x="589" y="94" width="2" height="1" fill="#0000ff"/>
<rect x="591" y="95" width="2" height="1" fill="#0000ff"/>
<rect x="593" y="96" width="3" height="1" fill="#0000ff"/>
<rect x="596" y="97" width="2" height="1" fill="#0000ff"/>
<rect x="598" y="98" width="2" height="1" fill="#0000ff"/>
<rect x="600" y="99" width="3" height="1" fill="#0000ff"/>
<rect x="603" y="100" width="2" height="1" fill="#0000ff"/>
<rect x="605" y="101" width="2" height="1" fill="#0000ff"/>
<rect x="607" y="102" width="3" height="1" fill="#0000ff"/>
<rect x="610" y="103" width="2" height="1" fill="#0000ff"/>
<rect x="612" y="104" width="2" height="1" fill="#0000ff"/>
<rect x="614" y="105" width="3" height="1" fill="#0000ff"/>
<rect x="617" y="106" width="2" height="1" fill="#0000ff"/>
<rect x="619" y="107" width="3" height="1" fill="#0000ff"/>
<rect x="622" y="108" width="2" height="1" fill="#0000ff"/>
<rect x="624" y="109" width="2" height="1" fill="#0000ff"/>
<rect x="626" y="110" width="3" height="1" fill="#0000ff"/>
<rect x="629" y="111" width="2" height="1" fill="#0000ff"/>
<rect x="631" y="112" width="2" height="1" fill="#0000ff"/>
<rect x="633" y="113" width="3" height="1" fill="#0000ff"/>
<rect x="636" y="114" width="2" height="1" fill="#0000ff"/>
<rect x="638" y="115" width="2" height="1" fill="#0000ff"/>
<rect x="640" y="116" width="3" height="1" fill="#0000ff"/>
<rect x="643" y="117" width="2" height="1" fill="#0000ff"/>
<rect x="645" y="118" width="2" height="1" fill="#0000ff"/>
<rect x="647" y="119" width="3" height="1" fill="#0000ff"/>
<rect x="650" y="120" width="2" height="1" fill="#0000ff"/>
<rect x="652" y="121" width="2" height="1" fill="#0000ff"/>
<rect x="654" y="122" width="3" height="1" fill="#0000ff"/>
<rect x="657" y="123" width="2" height="1" fill="#0000ff"/>
<rect x="659" y="124" width="2" height="1" fill="#0000ff"/>
<rect x="661" y="125" width="3" height="1" fill="#0000ff"/>
<rect x="664" y="126" width="2" height="1" fill="#0000ff"/>
<rect x="666" y="127" width="2" height="1" fill="#0000ff"/>
<rect x="668" y="128" width="3" height="1" fill="#0000ff"/>
<rect x="671" y="129" width="2" height="1" fill="#0000ff"/>
<rect x="673" y="130" width="3" height="1" fill="#0000ff"/>
<rect x="676" y="131" width="2" height="1" fill="#0000ff"/>
<rect x="678" y="132" width="2" height="1" fill="#0000ff"/>
<rect x="680" y="133" width="3" height="1" fill="#0000ff"/>
<rect x="683" y="134" width="2" height="1" fill="#0000ff"/>
<rect x="685" y="135" width="2" height="1" fill="#0000ff"/>
<rect x="687" y="136" width="3" height="1" fill="#0000ff"/>
<rect x="690" y="137" width="2" height="1" fill="#0000ff"/>
<rect x="692" y="138" width="2" height="1" fill="#0000ff"/>
<rect x="694" y="139" width="3" height="1" fill="#0000ff"/>
<rect x="697" y="140" width="2" height="1" fill="#0000ff"/>
<rect x="699" y="141" width="2" height="1" fill="#0000ff"/>
<rect x="701" y="142" width="3" height="1" fill="#0000ff"/>
<rect x="704" y="143" width="2" height="1" fill="#0000ff"/>
<rect x="706" y="144" width="2" height="1" fill="#0000ff"/>
<rect x="708" y="145" width="3" height="1" fill="#0000ff"/>
<rect x="711" y="146" width="2" height="1" fill="#0000ff"/>
<rect x="713" y="147" width="2" height="1" fill="#0000ff"/>
<rect x="715" y="148" width="3" height="1" fill="#0000ff"/>
<rect x="718" y="149" width="2" height="1" fill="#0000ff"/>
<rect x="720" y="150" width="2" height="1" fill="#0000ff"/>
<rect x="722" y="151" width="3" height="1" fill="#0000ff"/>
<rect x="725" y="152" width="2" height="1" fill="#0000ff"/>
<rect x="727" y="153" width="3" height="1" fill="#0000ff"/>
<rect x="730" y="154" width="2" height="1" fill="#0000ff"/>
<rect x="732" y="155" width="2" height="1" fill="#0000ff"/>
<rect x="734" y="156" width="3" height="1" fill="#0000ff"/>
<rect x="737" y="157" width="2" height="1" fill="#0000ff"/>
<rect x="739" y="158" width="2" height="1" fill="#0000ff"/>
<rect x="741" y="159" width="2" height="1" fill="#0000ff"/>
<rect x="681" y="124" width="1" height="1" fill="#0000ff"/>
<rect x="682" y="125" width="1" height="1" fill="#0000ff"/>
<rect x="683" y="126" width="1" height="2" fill="#0000ff"/>
<rect x="684" y="128" width="1" height="2" fill="#0000ff"/>
<rect x="685" y="130" width="1" height="2" fill="#0000ff"/>
<rect x="686" y="132" width="1" height="1" fill="#0000ff"/>
<rect x="687" y="133" width="1" height="2" fill="#0000ff"/>
<rect x="688" y="135" width="1" height="2" fill="#0000ff"/>
<rect x="689" y="137" width="1" height="1" fill="#0000ff"/>
<rect x="690" y="138" width="1" height="2" fill="#0000ff"/>
<rect x="691" y="140" width="1" height="2" fill="#0000ff"/>
<rect x="692" y="142" width="1" height="1" fill="#0000ff"/>
<rect x="693" y="143" width="1" height="2" fill="#0000ff"/>
<rect x="694" y="145" width="1" height="2" fill="#0000ff"/>
<rect x="695" y="147" width="1" height="1" fill="#0000ff"/>
<rect x="696" y="148" width="1" height="2" fill="#0000ff"/>
<rect x="697" y="150" width="1" height="2" fill="#0000ff"/>
<rect x="698" y="152" width="1" height="1" fill="#0000ff"/>
<rect x="699" y="153" width="1" height="2" fill="#0000ff"/>
<rect x="700" y="155" width="1" height="2" fill="#0000ff"/>
<rect x="701" y="157" width="1" height="2" fill="#0000ff"/>
<rect x="702" y="159" width="1" height="1" fill="#0000ff"/>
<rect x="703" y="160" width="1" height="2" fill="#0000ff"/>
<rect x="704" y="162" width="1" height="2" fill="#0000ff"/>
<rect x="705" y="164" width="1" height="1" fill="#0000ff"/>
<rect x="706" y="165" width="1" height="2" fill="#0000ff"/>
<rect x="707" y="167" width="1" height="2" fill="#0000ff"/>
<rect x="708" y="169" width="1" height="1" fill="#0000ff"/>
<rect x="709" y="170" width="1" height="2" fill="#0000ff"/>
<rect x="710" y="172" width="1" height="2" fill="#0000ff"/>
<rect x="711" y="174" width="1" height="1" fill="#0000ff"/>
<rect x="712" y="175" width="1" height="2" fill="#0000ff"/>
<rect x="713" y="177" width="1" height="2" fill="#0000ff"/>
<rect x="714" y="179" width="1" height="2" fill="#0000ff"/>
<rect x="715" y="181" width="1" height="1" fill="#0000ff"/>
<rect x="716" y="182" width="1" height="2" fill="#0000ff"/>
<rect x="717" y="184" width="1" height="2" fill="#0000ff"/>
<rect x="718" y="186" width="1" height="1" fill="#0000ff"/>
<rect x="719" y="187" width="1" height="2" fill="#0000ff"/>
<rect x="720" y="189" width="1" height="2" fill="#0000ff"/>
<rect x="721" y="191" width="1" height="1" fill="#0000ff"/>
<rect x="722" y="192" width="1" height="2" fill="#0000ff"/>
<rect x="723" y="194" width="1" height="2" fill="#0000ff"/>
<rect x="724" y="196" width="1" height="1" fill="#0000ff"/>
<rect x="725" y="197" width="1" height="2" fill="#0000ff"/>
<rect x="726" y="199" width="1" height="2" fill="#0000ff"/>
<rect x="727" y="201" width="1" height="2" fill="#0000ff"/>
<rect x="728" y="203" width="1" height="1" fill="#0000ff"/>
<rect x="729" y="204" width="1" height="2" fill="#0000ff"/>
<rect x="730" y="206" width="1" height="2" fill="#0000ff"/>
<rect x="731" y="208" width="1" height="1" fill="#0000ff"/>
<rect x="732" y="209" width="1" height="2" fill="#0000ff"/>
<rect x="733" y="211" width="1" height="2" fill="#0000ff"/>
<rect x="734" y="213" width="1" height="1" fill="#0000ff"/>
<rect x="735" y="214" width="1" height="2" fill="#0000ff"/>
<rect x="736" y="216" width="1" height="2" fill="#0000ff"/>
<rect x="737" y="218" width="1" height="1" fill="#0000ff"/>
<rect x="738" y="219" width="1" height="2" fill="#0000ff"/>
<rect x="739" y="221" width="1" height="2" fill="#0000ff"/>
<rect x="740" y="223" width="1" height="1" fill="#0000ff"/>
<rect x="741" y="224" width="1" height="2" fill="#0000ff"/>
<rect x="742" y="226" width="1" height="2" fill="#0000ff"/>
<rect x="743" y="228" width="1" height="2" fill="#0000ff"/>
<rect x="744" y="230" width="1" height="1" fill="#0000ff"/>
<rect x="745" y="231" width="1" height="2" fill="#0000ff"/>
<rect x="746" y="233" width="1" height="2" fill="#0000ff"/>
<rect x="747" y="235" width="1" height="1" fill="#0000ff"/>
<rect x="748" y="236" width="1" height="2" fill="#0000ff"/>
<rect x="749" y="238" width="1" height="2" fill="#0000ff"/>
<rect x="750" y="240" width="1" height="1" fill="#0000ff"/>
<rect x="751" y="241" width="1" height="2" fill="#0000ff"/>
<rect x="752" y="243" width="1" height="2" fill="#0000ff"/>
<rect x="753" y="245" width="1" height="1" fill="#0000ff"/>
<rect x="754" y="246" width="1" height="2" fill="#0000ff"/>
<rect x="755" y="248" width="1" height="2" fill="#0000ff"/>
<rect x="756" y="250" width="1" height="2" fill="#0000ff"/>
<rect x="757" y="252" width="1" height="1" fill="#0000ff"/>
<rect x="758" y="253" width="1" height="2" fill="#0000ff"/>
<rect x="759" y="255" width="1" height="2" fill="#0000ff"/>
<rect x="760" y="257" width="1" height="1" fill="#0000ff"/>
<rect x="761" y="258" width="1" height="2" fill="#0000ff"/>
<rect x="762" y="260" width="1" height="2" fill="#0000ff"/>
<rect x="763" y="262" width="1" height="1" fill="#0000ff"/>
<rect x="764" y="263" width="1" height="2" fill="#0000ff"/>
<rect x="765" y="265" width="1" height="2" fill="#0000ff"/>
<rect x="766" y="267" width="1" height="1" fill="#0000ff"/>
<rect x="767" y="268" width="1" height="2" fill="#0000ff"/>
<rect x="768" y="270" width="1" height="2" fill="#0000ff"/>
<rect x="769" y="272" width="1" height="1" fill="#0000ff"/>
<rect x="770" y="273" width="1" height="2" fill="#0000ff"/>
<rect x="771" y="275" width="1" height="2" fill="#0000ff"/>
<rect x="772" y="277" width="1" height="2" fill="#0000ff"/>
<rect x="773" y="279" width="1" height="1" fill="#0000ff"/>
<rect x="774" y="280" width="1" height="2" fill="#0000ff"/>
<rect x="775" y="282" width="1" height="2" fill="#0000ff"/>
<rect x="776" y="284" width="1" height="1" fill="#0000ff"/>
<rect x="777" y="285" width="1" height="2" fill="#0000ff"/>
<rect x="778" y="287" width="1" height="2" fill="#0000ff"/>
<rect x="779" y="289" width="1" height="1" fill="#0000ff"/>
<rect x="780" y="290" width="1" height="2" fill="#0000ff"/>
<rect x="781" y="292" width="1" height="2" fill="#0000ff"/>
<rect x="782" y="294" width="1" height="1" fill="#0000ff"/>
<rect x="783" y="295" width="1" height="2" fill="#0000ff"/>
<rect x="784" y="297" width="1" height="2" fill="#0000ff"/>
<rect x="785" y="299" width="1" height="2" fill="#0000ff"/>
<rect x="786" y="301" width="1" height="1" fill="#0000ff"/>
<rect x="787" y="302" width="1" height="2" fill="#0000ff"/>
<rect x="788" y="304" width="1" height="2" fill="#0000ff"/>
<rect x="789" y="306" width="1" height="1" fill="#0000ff"/>
<rect x="790" y="307" width="1" height="2" fill="#0000ff"/>
<rect x="791" y="309" width="1" height="2" fill="#0000ff"/>
<rect x="792" y="311" width="1" height="1" fill="#0000ff"/>
<rect x="793" y="312" width="1" height="2" fill="#0000ff"/>
<rect x="794" y="314" width="1" height="2" fill="#0000ff"/>
<rect x="795" y="316" width="1" height="1" fill="#0000ff"/>
<rect x="796" y="317" width="1" height="2" fill="#0000ff"/>
<rect x="797" y="319" width="1" height="2" fill="#0000ff"/>
<rect x="798" y="321" width="1" height="1" fill="#0000ff"/>
<rect x="799" y="322" width="1" height="2" fill="#0000ff"/>
<rect x="800" y="324" width="1" height="2" fill="#0000ff"/>
<rect x="801" y="326" width="1" height="2" fill="#0000ff"/>
<rect x="802" y="328" width="1" height="1" fill="#0000ff"/>
<rect x="803" y="329" width="1" height="2" fill="#0000ff"/>
<rect x="804" y="331" width="1" height="2" fill="#0000ff"/>
<rect x="805" y="333" width="1" height="1" fill="#0000ff"/>
<rect x="806" y="334" width="1" height="2" fill="#0000ff"/>
<rect x="807" y="336" width="1" height="2" fill="#0000ff"/>
<rect x="808" y="338" width="1" height="1" fill="#0000ff"/>
<rect x="809" y="339" width="1" height="2" fill="#0000ff"/>
<rect x="810" y="341" width="1" height="2" fill="#0000ff"/>
<rect x="811" y="343" width="1" height="1" fill="#0000ff"/>
<rect x="812" y="344" width="1" height="2" fill="#0000ff"/>
<rect x="813" y="346" width="1" height="2" fill="#0000ff"/>
<rect x="814" y="348" width="1" height="2" fill="#0000ff"/>
<rect x="815" y="350" width="1" height="1" fill="#0000ff"/>
<rect x="816" y="351" width="1" height="2" fill="#0000ff"/>
<rect x="817" y="353" width="1" height="2" fill="#0000ff"/>
<rect x="818" y="355" width="1" height="1" fill="#0000ff"/>
<rect x="819" y="356" width="1" height="2" fill="#0000ff"/>
<rect x="820" y="358" width="1" height="2" fill="#0000ff"/>
<rect x="821" y="360" width="1" height="1" fill="#0000ff"/>
<rect x="822" y="361" width="1" height="2" fill="#0000ff"/>
<rect x="823" y="363" width="1" height="2" fill="#0000ff"/>
<rect x="824" y="365" width="1" height="1" fill="#0000ff"/>
<rect x="825" y="366" width="1" height="2" fill="#0000ff"/>
<rect x="826" y="368" width="1" height="2" fill="#0000ff"/>
<rect x="827" y="370" width="1" height="2" fill="#0000ff"/>
<rect x="828" y="372" width="1" height="1" fill="#0000ff"/>
<rect x="829" y="373" width="1" height="2" fill="#0000ff"/>
<rect x="830" y="375" width="1" height="2" fill="#0000ff"/>
<rect x="831" y="377" width="1" height="1" fill="#0000ff"/>
<rect x="832" y="378" width="1" height="2" fill="#0000ff"/>
<rect x="833" y="380" width="1" height="2" fill="#0000ff"/>
<rect x="834" y="382" width="1" height="1" fill="#0000ff"/>
<rect x="835" y="383" width="1" height="2" fill="#0000ff"/>
<rect x="836" y="385" width="1" height="2" fill="#0000ff"/>
<rect x="837" y="387" width="1" height="1" fill="#0000ff"/>
<rect x="838" y="388" width="1" height="2" fill="#0000ff"/>
<rect x="839" y="390" width="1" height="2" fill="#0000ff"/>
<rect x="840" y="392" width="1" height="1" fill="#0000ff"/>
<rect x="841" y="393" width="1" height="2" fill="#0000ff"/>
<rect x="842" y="395" width="1" height="2" fill="#0000ff"/>
<rect x="843" y="397" width="1" height="2" fill="#0000ff"/>
<rect x="844" y="399" width="1" height="1" fill="#0000ff"/>
<rect x="845" y="400" width="1" height="2" fill="#0000ff"/>
<rect x="846" y="402" width="1" height="2" fill="#0000ff"/>
<rect x="847" y="404" width="1" height="1" fill="#0000ff"/>
<rect x="848" y="405" width="1" height="2" fill="#0000ff"/>
<rect x="849" y="407" width="1" height="2" fill="#0000ff"/>
<rect x="850" y="409" width="1" height="1" fill="#0000ff"/>
<rect x="851" y="410" width="1" height="2" fill="#0000ff"/>
<rect x="852" y="412" width="1" height="2" fill="#0000ff"/>
<rect x="853" y="414" width="1" height="1" fill="#0000ff"/>
<rect x="854" y="415" width="1" height="2" fill="#0000ff"/>
<rect x="855" y="417" width="1" height="2" fill="#0000ff"/>
<rect x="856" y="419" width="1" height="2" fill="#0000ff"/>
<rect x="857" y="421" width="1" height="1" fill="#0000ff"/>
<rect x="858" y="422" width="1" height="2" fill="#0000ff"/>
<rect x="859" y="424" width="1" height="2" fill="#0000ff"/>
<rect x="860" y="426" width="1" height="1" fill="#0000ff"/>
<rect x="861" y="427" width="1" height="2" fill="#0000ff"/>
<rect x="862" y="429" width="1" height="2" fill="#0000ff"/>
<rect x="863" y="431" width="1" height="1" fill="#0000ff"/>
<rect x="864" y="432" width="1" height="2" fill="#0000ff"/>
<rect x="865" y="434" width="1" height="2" fill="#0000ff"/>
<rect x="866" y="436" width="1" height="1" fill="#0000ff"/>
<rect x="867" y="437" width="1" height="2" fill="#0000ff"/>
<rect x="868" y="439" width="1" height="2" fill="#0000ff"/>
<rect x="777" y="412" width="1" height="2" fill="#0000ff"/>
<rect x="778" y="414" width="1" height="2" fill="#0000ff"/>
<rect x="779" y="416" width="1" height="1" fill="#0000ff"/>
<rect x="780" y="417" width="1" height="2" fill="#0000ff"/>
<rect x="781" y="419" width="1" height="1" fill="#0000ff"/>
<rect x="782" y="420" width="1" height="2" fill="#0000ff"/>
<rect x="783" y="422" width="1" height="1" fill="#0000ff"/>
<rect x="784" y="423" width="1" height="2" fill="#0000ff"/>
<rect x="785" y="425" width="1" height="1" fill="#0000ff"/>
<rect x="786" y="426" width="1" height="2" fill="#0000ff"/>
<rect x="787" y="428" width="1" height="1" fill="#0000ff"/>
<rect x="788" y="429" width="1" height="2" fill="#0000ff"/>
<rect x="789" y="431" width="1" height="1" fill="#0000ff"/>
<rect x="790" y="432" width="1" height="2" fill="#0000ff"/>
<rect x="791" y="434" width="1" height="1" fill="#0000ff"/>
<rect x="792" y="435" width="1" height="2" fill="#0000ff"/>
<rect x="793" y="437" width="1" height="1" fill="#0000ff"/>
<rect x="794" y="438" width="1" height="2" fill="#0000ff"/>
<rect x="795" y="440" width="1" height="1" fill="#0000ff"/>
<rect x="796" y="441" width="1" height="2" fill="#0000ff"/>
<rect x="797" y="443" width="1" height="1" fill="#0000ff"/>
<rect x="798" y="444" width="1" height="2" fill="#0000ff"/>
<rect x="799" y="446" width="1" height="2" fill="#0000ff"/>
<rect x="800" y="448" width="1" height="1" fill="#0000ff"/>
<rect x="801" y="449" width="1" height="2" fill="#0000ff"/>
<rect x="802" y="451" width="1" height="1" fill="#0000ff"/>
<rect x="803" y="452" width="1" height="2" fill="#0000ff"/>
<rect x="804" y="454" width="1" height="1" fill="#0000ff"/>
<rect x="805" y="455" width="1" height="2" fill="#0000ff"/>
<rect x="806" y="457" width="1" height="1" fill="#0000ff"/>
<rect x="807" y="458" width="1" height="2" fill="#0000ff"/>
<rect x="808" y="460" width="1" height="1" fill="#0000ff"/>
<rect x="809" y="461" width="1" height="2" fill="#0000ff"/>
<rect x="810" y="463" width="1" height="1" fill="#0000ff"/>
<rect x="811" y="464" width="1" height="2" fill="#0000ff"/>
<rect x="812" y="466" width="1" height="1" fill="#0000ff"/>
<rect x="813" y="467" width="1" height="2" fill="#0000ff"/>
<rect x="814" y="469" width="1" height="1" fill="#0000ff"/>
<rect x="815" y="470" width="1" height="2" fill="#0000ff"/>
<rect x="816" y="472" width="1" height="1" fill="#0000ff"/>
<rect x="817" y="473" width="1" height="2" fill="#0000ff"/>
<rect x="818" y="475" width="1" height="2" fill="#0000ff"/>
<rect x="819" y="477" width="1" height="1" fill="#0000ff"/>
<rect x="820" y="478" width="1" height="2" fill="#0000ff"/>
<rect x="821" y="480" width="1" height="1" fill="#0000ff"/>
<rect x="822" y="481" width="1" height="2" fill="#0000ff"/>
<rect x="823" y="483" width="1" height="1" fill="#0000ff"/>
<rect x="824" y="484" width="1" height="2" fill="#0000ff"/>
<rect x="825" y="486" width="1" height="1" fill="#0000ff"/>
<rect x="826" y="487" width="1" height="2" fill="#0000ff"/>
<rect x="827" y="489" width="1" height="1" fill="#0000ff"/>
<rect x="828" y="490" width="1" height="2" fill="#0000ff"/>
<rect x="829" y="492" width="1" height="1" fill="#0000ff"/>
<rect x="830" y="493" width="1" height="2" fill="#0000ff"/>
<rect x="831" y="495" width="1" height="1" fill="#0000ff"/>
<rect x="832" y="496" width="1" height="2" fill="#0000ff"/>
<rect x="833" y="498" width="1" height="1" fill="#0000ff"/>
<rect x="834" y="499" width="1" height="2" fill="#0000ff"/>
<rect x="835" y="501" width="1" height="1" fill="#0000ff"/>
<rect x="836" y="502" width="1" height="2" fill="#0000ff"/>
<rect x="837" y="504" width="1" height="2" fill="#0000ff"/>
<rect x="838" y="506" width="1" height="1" fill="#0000ff"/>
<rect x="839" y="507" width="1" height="2" fill="#0000ff"/>
<rect x="840" y="509" width="1" height="1" fill="#0000ff"/>
<rect x="841" y="510" width="1" height="2" fill="#0000ff"/>
<rect x="842" y="512" width="1" height="1" fill="#0000ff"/>
<rect x="843" y="513" width="1" height="2" fill="#0000ff"/>
<rect x="844" y="515" width="1" height="1" fill="#0000ff"/>
<rect x="845" y="516" width="1" height="2" fill="#0000ff"/>
<rect x="846" y="518" width="1" height="1" fill="#0000ff"/>
<rect x="847" y="519" width="1" height="2" fill="#0000ff"/>
<rect x="848" y="521" width="1" height="1" fill="#0000ff"/>
<rect x="849" y="522" width="1" height="2" fill="#0000ff"/>
<rect x="850" y="524" width="1" height="1" fill="#0000ff"/>
<rect x="851" y="525" width="1" height="2" fill="#0000ff"/>
<rect x="852" y="527" width="1" height="1" fill="#0000ff"/>
<rect x="853" y="528" width="1" height="2" fill="#0000ff"/>
<rect x="854" y="530" width="1" height="1" fill="#0000ff"/>
<rect x="855" y="531" width="1" height="2" fill="#0000ff"/>
<rect x="856" y="533" width="1" height="1" fill="#0000ff"/>
<rect x="857" y="534" width="1" height="2" fill="#0000ff"/>
<rect x="858" y="536" width="1" height="2" fill="#0000ff"/>
<rect x="859" y="538" width="1" height="1" fill="#0000ff"/>
<rect x="860" y="539" width="1" height="2" fill="#0000ff"/>
<rect x="861" y="541" width="1" height="1" fill="#0000ff"/>
<rect x="759" y="501" width="1" height="1" fill="#0000ff"/>
<rect x="760" y="502" width="1" height="1" fill="#0000ff"/>
<rect x="761" y="503" width="2" height="1" fill="#0000ff"/>
<rect x="763" y="504" width="2" height="1" fill="#0000ff"/>
<rect x="765" y="505" width="2" height="1" fill="#0000ff"/>
<rect x="767" y="506" width="2" height="1" fill="#0000ff"/>
<rect x="769" y="507" width="2" height="1" fill="#0000ff"/>
<rect x="771" y="508" width="2" height="1" fill="#0000ff"/>
<rect x="773" y="509" width="2" height="1" fill="#0000ff"/>
<rect x="775" y="510" width="1" height="1" fill="#0000ff"/>
<rect x="776" y="511" width="2" height="1" fill="#0000ff"/>
<rect x="778" y="512" width="2" height="1" fill="#0000ff"/>
<rect x="780" y="513" width="2" height="1" fill="#0000ff"/>
<rect x="782" y="514" width="2" height="1" fill="#0000ff"/>
<rect x="784" y="515" width="2" height="1" fill="#0000ff"/>
<rect x="786" y="516" width="2" height="1" fill="#0000ff"/>
<rect x="788" y="517" width="2" height="1" fill="#0000ff"/>
<rect x="790" y="518" width="1" height="1" fill="#0000ff"/>
<rect x="791" y="519" width="2" height="1" fill="#0000ff"/>
<rect x="793" y="520" width="2" height="1" fill="#0000ff"/>
<rect x="795" y="521" width="2" height="1" fill="#0000ff"/>
<rect x="797" y="522" width="2" height="1" fill="#0000ff"/>
<rect x="799" y="523" width="2" height="1" fill="#0000ff"/>
<rect x="801" y="524" width="2" height="1" fill="#0000ff"/>
<rect x="803" y="525" width="2" height="1" fill="#0000ff"/>
<rect x="805" y="526" width="1" height="1" fill="#0000ff"/>
<rect x="806" y="527" width="2" height="1" fill="#0000ff"/>
<rect x="808" y="528" width="2" height="1" fill="#0000ff"/>
<rect x="810" y="529" width="2" height="1" fill="#0000ff"/>
<rect x="812" y="530" width="2" height="1" fill="#0000ff"/>
<rect x="814" y="531" width="2" height="1" fill="#0000ff"/>
<rect x="816" y="532" width="2" height="1" fill="#0000ff"/>
<rect x="818" y="533" width="2" height="1" fill="#0000ff"/>
<rect x="820" y="534" width="1" height="1" fill="#0000ff"/>
<rect x="821" y="535" width="2" height="1" fill="#0000ff"/>
<rect x="823" y="536" width="2" height="1" fill="#0000ff"/>
<rect x="825" y="537" width="2" height="1" fill="#0000ff"/>
<rect x="827" y="538" width="2" height="1" fill="#0000ff"/>
<rect x="829" y="539" width="2" height="1" fill="#0000ff"/>
<rect x="831" y="540" width="2" height="1" fill="#0000ff"/>
<rect x="833" y="541" width="1" height="1" fill="#0000ff"/>
<rect x="834" y="542" width="2" height="1" fill="#0000ff"/>
<rect x="836" y="543" width="2" height="1" fill="#0000ff"/>
<rect x="838" y="544" width="2" height="1" fill="#0000ff"/>
<rect x="840" y="545" width="2" height="1" fill="#0000ff"/>
<rect x="842" y="546" width="2" height="1" fill="#0000ff"/>
<rect x="844" y="547" width="2" height="1" fill="#0000ff"/>
<rect x="846" y="548" width="2" height="1" fill="#0000ff"/>
<rect x="848" y="549" width="1" height="1" fill="#0000ff"/>
<rect x="849" y="550" width="2" height="1" fill="#0000ff"/>
<rect x="851" y="551" width="2" height="1" fill="#0000ff"/>
<rect x="853" y="552" width="1" height="1" fill="#0000ff"/>
<rect x="0" y="0" width="936" height="1" fill="#000000"/>
<rect x="935" y="0" width="1" height="591" fill="#000000"/>
<rect x="0" y="589" width="3" height="1" fill="#0000ff"/>
<rect x="6" y="589" width="3" height="1" fill="#0000ff"/>
<rect x="12" y="589" width="3" height="1" fill="#0000ff"/>
<rect x="18" y="589" width="3" height="1" fill="#0000ff"/>
<rect x="24" y="589" width="3" height="1" fill="#0000ff"/>
<rect x="30" y="589" width="3" height="1" fill="#0000ff"/>
<rect x="36" y="589" width="3" height="1" fill="#0000ff"/>
<rect x="42" y="589" width="3" height="1" fill="#0000ff"/>
<rect x="48" y="589" width="3" height="1" fill="#0000ff"/>
<rect x="54" y="589" width="3" height="1" fill="#0000ff"/>
<rect x="60" y="589" width="3" height="1" fill="#0000ff"/>
<rect x="66" y="589" width="3" height="1" fill="#0000ff"/>
<rect x="72" y="589" width="3" height="1" fill="#0000ff"/>
<rect x="78" y="589" width="3" height="1" fill="#0000ff"/>
<rect x="84" y="589" width="3" height="1" fill="#0000ff"/>
<rect x="90" y="589" width="3" height="1" fill="#0000ff"/>
<rect x="96" y="589" width="3" height="1" fill="#0000ff"/>
<rect x="102" y="589" width="3" height="1" fill="#0000ff"/>
<rect x="108" y="589" width="3" height="1" fill="#0000ff"/>
<rect x="114" y="589" width="3" height="1" fill="#0000ff"/>
<rect x="120" y="589" width="3" height="1" fill="#0000ff"/>
<rect x="126" y="589" width="3" height="1" fill="#0000ff"/>
<rect x="132" y="589" width="3" height="1" fill="#0000ff"/>
<rect x="138" y="589" width="3" height="1" fill="#0000ff"/>
<rect x="144" y="589" width="3" height="1" fill="#0000ff"/>
<rect x="150" y="589" width="3" height="1" fill="#0000ff"/>
<rect x="156" y="589" width="3" height="1" fill="#0000ff"/>
<rect x="162" y="589" width="3" height="1" fill="#0000ff"/>
<rect x="168" y="589" width="3" height="1" fill="#0000ff"/>
<rect x="174" y="589" width="3" height="1" fill="#0000ff"/>
<rect x="180" y="589" width="3" height="1" fill="#0000ff"/>
<rect x="186" y="589" width="3" height="1" fill="#0000ff"/>
<rect x="192" y="589" width="3" height="1" fill="#0000ff"/>
<rect x="198" y="589" width="3" height="1" fill="#0000ff"/>
<rect x="204" y="589" width="3" height="1" fill="#0000ff"/>
<rect x="210" y="589" width="3" height="1" fill="#0000ff"/>
<rect x="216" y="589" width="3" height="1" fill="#0000ff"/>
<rect x="222" y="589" width="3" height="1" fill="#0000ff"/>
<rect x="228" y="589" width="3" height="1" fill="#0000ff"/>
<rect x="234" y="589" width="3" height="1" fill="#0000ff"/>
<rect x="240" y="589" width="3" height="1" fill="#0000ff"/>
<rect x="246" y="589" width="3" height="1" fill="#0000ff"/>
<rect x="252" y="589" width="3" height="1" fill="#0000ff"/>
<rect x="258" y="589" width="3" height="1" fill="#0000ff"/>
<rect x="264" y="589" width="3" height="1" fill="#0000ff"/>
<rect x="270" y="589" width="3" height="1" fill="#0000ff"/>
<rect x="276" y="589" width="3" height="1" fill="#0000ff"/>
<rect x="282" y="589" width="3" height="1" fill="#0000ff"/>
<rect x="288" y="589" width="3" height="1" fill="#0000ff"/>
<rect x="294" y="589" width="3" height="1" fill="#0000ff"/>
<rect x="300" y="589" width="3" height="1" fill="#0000ff"/>
<rect x="306" y="589" width="3" height="1" fill="#0000ff"/>
<rect x="312" y="589" width="3" height="1" fill="#0000ff"/>
<rect x="318" y="589" width="3" height="1" fill="#0000ff"/>
<rect x="324" y="589" width="3" height="1" fill="#0000ff"/>
<rect x="330" y="589" width="3" height="1" fill="#0000ff"/>
<rect x="336" y="589" width="3" height="1" fill="#0000ff"/>
<rect x="342" y="589" width="3" height="1" fill="#0000ff"/>
<rect x="348" y="589" width="3" height="1" fill="#0000ff"/>
<rect x="354" y="589" width="3" height="1" fill="#0000ff"/>
<rect x="360" y="589" width="3" height="1" fill="#0000ff"/>
<rect x="366" y="589" width="3" height="1" fill="#0000ff"/>
<rect x="372" y="589" width="3" height="1" fill="#0000ff"/>
<rect x="378" y="589" width="3" height="1" fill="#0000ff"/>
<rect x="384" y="589" width="3" height="1" fill="#0000ff"/>
<rect x="390" y="589" width="3" height="1" fill="#0000ff"/>
<rect x="396" y="589" width="3" height="1" fill="#0000ff"/>
<rect x="402" y="589" width="3" height="1" fill="#0000ff"/>
<rect x="408" y="589" width="3" height="1" fill="#0000ff"/>
<rect x="414" y="589" width="3" height="1" fill="#0000ff"/>
<rect x="420" y="589" width="3" height="1" fill="#0000ff"/>
<rect x="426" y="589" width="3" height="1" fill="#0000ff"/>
<rect x="432" y="589" width="3" height="1" fill="#0000ff"/>
<rect x="438" y="589" width="3" height="1" fill="#0000ff"/>
<rect x="444" y="589" width="3" height="1" fill="#0000ff"/>
<rect x="450" y="589" width="3" height="1" fill="#0000ff"/>
<rect x="456" y="589" width="3" height="1" fill="#0000ff"/>
<rect x="462" y="589" width="3" height="1" fill="#0000ff"/>
<rect x="468" y="589" width="3" height="1" fill="#0000ff"/>
<rect x="474" y="589" width="3" height="1" fill="#0000ff"/>
<rect x="480" y="589" width="3" height="1" fill="#0000ff"/>
<rect x="486" y="589" width="3" height="1" fill="#0000ff"/>
<rect x="492" y="589" width="3" height="1" fill="#0000ff"/>
<rect x="498" y="589" width="3" height="1" fill="#0000ff"/>
<rect x="504" y="589" width="3" height="1" fill="#0000ff"/>
<rect x="510" y="589" width="3" height="1" fill="#0000ff"/>
<rect x="516" y="589" width="3" height="1" fill="#0000ff"/>
<rect x="522" y="589" width="3" height="1" fill="#0000ff"/>
<rect x="528" y="589" width="3" height="1" fill="#0000ff"/>
<rect x="534" y="589" width="3" height="1" fill="#0000ff"/>
<rect x="540" y="589" width="3" height="1" fill="#0000ff"/>
<rect x="546" y="589" width="3" height="1" fill="#0000ff"/>
<rect x="552" y="589" width="3" height="1" fill="#0000ff"/>
<rect x="558" y="589" width="3" height="1" fill="#0000ff"/>
<rect x="564" y="589" width="3" height="1" fill="#0000ff"/>
<rect x="570" y="589" width="3" height="1" fill="#0000ff"/>
<rect x="576" y="589" width="3" height="1" fill="#0000ff"/>
<rect x="582" y="589" width="3" height="1" fill="#0000ff"/>
<rect x="588" y="589" width="3" height="1" fill="#0000ff"/>
<rect x="594" y="589" width="3" height="1" fill="#0000ff"/>
<rect x="600" y="589" width="3" height="1" fill="#0000ff"/>
<rect x="606" y="589" width="3" height="1" fill="#0000ff"/>
<rect x="612" y="589" width="3" height="1" fill="#0000ff"/>
<rect x="618" y="589" width="3" height="1" fill="#0000ff"/>
<rect x="624" y="589" width="3" height="1" fill="#0000ff"/>
<rect x="630" y="589" width="3" height="1" fill="#0000ff"/>
<rect x="636" y="589" width="3" height="1" fill="#0000ff"/>
<rect x="642" y="589" width="3" height="1" fill="#0000ff"/>
<rect x="648" y="589" width="3" height="1" fill="#0000ff"/>
<rect x="654" y="589" width="3" height="1" fill="#0000ff"/>
<rect x="660" y="589" width="3" height="1" fill="#0000ff"/>
<rect x="666" y="589" width="3" height="1" fill="#0000ff"/>
<rect x="672" y="589" width="3" height="1" fill="#0000ff"/>
<rect x="678" y="589" width="3" height="1" fill="#0000ff"/>
<rect x="684" y="589" width="3" height="1" fill="#0000ff"/>
<rect x="690" y="589" width="3" height="1" fill="#0000ff"/>
<rect x="696" y="589" width="3" height="1" fill="#0000ff"/>
<rect x="702" y="589" width="3" height="1" fill="#0000ff"/>
<rect x="708" y="589" width="3" height="1" fill="#0000ff"/>
<rect x="714" y="589" width="3" height="1" fill="#0000ff"/>
<rect x="720" y="589" width="3" height="1" fill="#0000ff"/>
<rect x="726" y="589" width="3" height="1" fill="#0000ff"/>
<rect x="732" y="589" width="3" height="1" fill="#0000ff"/>
<rect x="738" y="589" width="3" height="1" fill="#0000ff"/>
<rect x="744" y="589" width="3" height="1" fill="#0000ff"/>
<rect x="750" y="589" width="3" height="1" fill="#0000ff"/>
<rect x="756" y="589" width="3" height="1" fill="#0000ff"/>
<rect x="762" y="589" width="3" height="1" fill="#0000ff"/>
<rect x="768" y="589" width="3" height="1" fill="#0000ff"/>
<rect x="774" y="589" width="3" height="1" fill="#0000ff"/>
<rect x="780" y="589" width="3" height="1" fill="#0000ff"/>
<rect x="786" y="589" width="3" height="1" fill="#0000ff"/>
<rect x="792" y="589" width="3" height="1" fill="#0000ff"/>
<rect x="798" y="589" width="3" height="1" fill="#0000ff"/>
<rect x="804" y="589" width="3" height="1" fill="#0000ff"/>
<rect x="810" y="589" width="3" height="1" fill="#0000ff"/>
<rect x="816" y="589" width="3" height="1" fill="#0000ff"/>
<rect x="822" y="589" width="3" height="1" fill="#0000ff"/>
<rect x="828" y="589" width="3" height="1" fill="#0000ff"/>
<rect x="834" y="589" width="3" height="1" fill="#0000ff"/>
<rect x="840" y="589" width="3" height="1" fill="#0000ff"/>
<rect x="846" y="589" width="3" height="1" fill="#0000ff"/>
<rect x="852" y="589" width="3" height="1" fill="#0000ff"/>
<rect x="858" y="589" width="3" height="1" fill="#0000ff"/>
<rect x="864" y="589" width="3" height="1" fill="#0000ff"/>
<rect x="870" y="589" width="3" height="1" fill="#0000ff"/>
<rect x="876" y="589" width="3" height="1" fill="#0000ff"/>
<rect x="882" y="589" width="3" height="1" fill="#0000ff"/>
<rect x="888" y="589" width="3" height="1" fill="#0000ff"/>
<rect x="894" y="589" width="3" height="1" fill="#0000ff"/>
<rect x="900" y="589" width="3" height="1" fill="#0000ff"/>
<rect x="906" y="589" width="3" height="1" fill="#0000ff"/>
<rect x="912" y="589" width="3" height="1" fill="#0000ff"/>
<rect x="918" y="589" width="3" height="1" fill="#0000ff"/>
<rect x="924" y="589" width="3" height="1" fill="#0000ff"/>
<rect x="930" y="589" width="3" height="1" fill="#0000ff"/>
<rect x="0" y="590" width="936" height="1" fill="#000000"/>
<rect x="936" y="1" width="3" height="1" fill="#000000"/>
<rect x="936" y="4" width="3" height="1" fill="#000000"/>
<rect x="936" y="6" width="3" height="1" fill="#000000"/>
<rect x="936" y="8" width="3" height="1" fill="#000000"/>
<rect x="936" y="10" width="3" height="1" fill="#000000"/>
<rect x="936" y="13" width="3" height="1" fill="#000000"/>
<rect x="936" y="15" width="3" height="1" fill="#000000"/>
<rect x="936" y="17" width="7" height="1" fill="#000000"/>
<rect x="936" y="19" width="3" height="1" fill="#000000"/>
<rect x="936" y="22" width="3" height="1" fill="#000000"/>
<rect x="936" y="24" width="3" height="1" fill="#000000"/>
<rect x="936" y="26" width="3" height="1" fill="#000000"/>
<rect x="936" y="28" width="3" height="1" fill="#000000"/>
<rect x="936" y="31" width="3" height="1" fill="#000000"/>
<rect x="936" y="33" width="3" height="1" fill="#000000"/>
<rect x="936" y="35" width="3" height="1" fill="#000000"/>
<rect x="936" y="38" width="3" height="1" fill="#000000"/>
<rect x="936" y="40" width="3" height="1" fill="#000000"/>
<rect x="936" y="42" width="7" height="1" fill="#000000"/>
<rect x="936" y="44" width="3" height="1" fill="#000000"/>
<rect x="936" y="47" width="3" height="1" fill="#000000"/>
<rect x="936" y="49" width="3" height="1" fill="#000000"/>
<rect x="936" y="51" width="3" height="1" fill="#000000"/>
<rect x="936" y="53" width="3" height="1" fill="#000000"/>
<rect x="936" y="56" width="3" height="1" fill="#000000"/>
<rect x="936" y="58" width="3" height="1" fill="#000000"/>
<rect x="936" y="60" width="3" height="1" fill="#000000"/>
<rect x="936" y="62" width="3" height="1" fill="#000000"/>
<rect x="936" y="65" width="3" height="1" fill="#000000"/>
<rect x="936" y="67" width="7" height="1" fill="#000000"/>
<rect x="936" y="69" width="3" height="1" fill="#000000"/>
<rect x="936" y="71" width="3" height="1" fill="#000000"/>
<rect x="936" y="74" width="3" height="1" fill="#000000"/>
<rect x="936" y="76" width="3" height="1" fill="#000000"/>
<rect x="936" y="78" width="3" height="1" fill="#000000"/>
<rect x="936" y="80" width="3" height="1" fill="#000000"/>
<rect x="936" y="83" width="3" height="1" fill="#000000"/>
<rect x="936" y="85" width="3" height="1" fill="#000000"/>
<rect x="936" y="87" width="3" height="1" fill="#000000"/>
<rect x="936" y="89" width="3" height="1" fill="#000000"/>
<rect x="936" y="92" width="7" height="1" fill="#000000"/>
<rect x="936" y="94" width="3" height="1" fill="#000000"/>
<rect x="936" y="96" width="3" height="1" fill="#000000"/>
<rect x="936" y="98" width="3" height="1" fill="#000000"/>
<rect x="936" y="101" width="3" height="1" fill="#000000"/>
<rect x="936" y="103" width="3" height="1" fill="#000000"/>
<rect x="936" y="105" width="3" height="1" fill="#000000"/>
<rect x="936" y="107" width="3" height="1" fill="#000000"/>
<rect x="936" y="110" width="3" height="1" fill="#000000"/>
<rect x="936" y="112" width="3" height="1" fill="#000000"/>
<rect x="936" y="114" width="3" height="1" fill="#000000"/>
<rect x="936" y="116" width="7" height="1" fill="#000000"/>
<rect x="936" y="119" width="3" height="1" fill="#000000"/>
<rect x="936" y="121" width="3" height="1" fill="#000000"/>
<rect x="936" y="123" width="3" height="1" fill="#000000"/>
<rect x="936" y="126" width="3" height="1" fill="#000000"/>
<rect x="936" y="128" width="3" height="1" fill="#000000"/>
<rect x="936" y="130" width="3" height="1" fill="#000000"/>
<rect x="936" y="132" width="3" height="1" fill="#000000"/>
<rect x="936" y="135" width="3" height="1" fill="#000000"/>
<rect x="936" y="137" width="3" height="1" fill="#000000"/>
<rect x="936" y="139" width="3" height="1" fill="#000000"/>
<rect x="936" y="141" width="7" height="1" fill="#000000"/>
<rect x="936" y="144" width="3" height="1" fill="#000000"/>
<rect x="936" y="146" width="3" height="1" fill="#000000"/>
<rect x="936" y="148" width="3" height="1" fill="#000000"/>
<rect x="936" y="150" width="3" height="1" fill="#000000"/>
<rect x="936" y="153" width="3" height="1" fill="#000000"/>
<rect x="936" y="155" width="3" height="1" fill="#000000"/>
<rect x="936" y="157" width="3" height="1" fill="#000000"/>
<rect x="936" y="159" width="3" height="1" fill="#000000"/>
<rect x="936" y="162" width="3" height="1" fill="#000000"/>
<rect x="936" y="164" width="3" height="1" fill="#000000"/>
<rect x="936" y="166" width="7" height="1" fill="#000000"/>
<rect x="936" y="168" width="3" height="1" fill="#000000"/>
<rect x="936" y="171" width="3" height="1" fill="#000000"/>
<rect x="936" y="173" width="3" height="1" fill="#000000"/>
<rect x="936" y="175" width="3" height="1" fill="#000000"/>
<rect x="936" y="177" width="3" height="1" fill="#000000"/>
<rect x="936" y="180" width="3" height="1" fill="#000000"/>
<rect x="936" y="182" width="3" height="1" fill="#000000"/>
<rect x="936" y="184" width="3" height="1" fill="#000000"/>
<rect x="936" y="186" width="3" height="1" fill="#000000"/>
<rect x="936" y="189" width="3" height="1" fill="#000000"/>
<rect x="936" y="191" width="7" height="1" fill="#000000"/>
<rect x="936" y="193" width="3" height="1" fill="#000000"/>
<rect x="936" y="195" width="3" height="1" fill="#000000"/>
<rect x="936" y="198" width="3" height="1" fill="#000000"/>
<rect x="936" y="200" width="3" height="1" fill="#000000"/>
<rect x="936" y="202" width="3" height="1" fill="#000000"/>
<rect x="936" y="204" width="3" height="1" fill="#000000"/>
<rect x="936" y="207" width="3" height="1" fill="#000000"/>
<rect x="936" y="209" width="3" height="1" fill="#000000"/>
<rect x="936" y="211" width="3" height="1" fill="#000000"/>
<rect x="936" y="214" width="3" height="1" fill="#000000"/>
<rect x="936" y="216" width="7" height="1" fill="#000000"/>
<rect x="936" y="218" width="3" height="1" fill="#000000"/>
<rect x="936" y="220" width="3" height="1" fill="#000000"/>
<rect x="936" y="223" width="3" height="1" fill="#000000"/>
<rect x="936" y="225" width="3" height="1" fill="#000000"/>
<rect x="936" y="227" width="3" height="1" fill="#000000"/>
<rect x="936" y="229" width="3" height="1" fill="#000000"/>
<rect x="936" y="232" width="3" height="1" fill="#000000"/>
<rect x="936" y="234" width="3" height="1" fill="#000000"/>
<rect x="936" y="236" width="3" height="1" fill="#000000"/>
<rect x="936" y="238" width="3" height="1" fill="#000000"/>
<rect x="936" y="241" width="7" height="1" fill="#000000"/>
<rect x="936" y="243" width="3" height="1" fill="#000000"/>
<rect x="936" y="245" width="3" height="1" fill="#000000"/>
<rect x="936" y="247" width="3" height="1" fill="#000000"/>
<rect x="936" y="250" width="3" height="1" fill="#000000"/>
<rect x="936" y="252" width="3" height="1" fill="#000000"/>
<rect x="936" y="254" width="3" height="1" fill="#000000"/>
<rect x="936" y="256" width="3" height="1" fill="#000000"/>
<rect x="936" y="259" width="3" height="1" fill="#000000"/>
<rect x="936" y="261" width="3" height="1" fill="#000000"/>
<rect x="936" y="263" width="3" height="1" fill="#000000"/>
<rect x="936" y="265" width="7" height="1" fill="#000000"/>
<rect x="936" y="268" width="3" height="1" fill="#000000"/>
<rect x="936" y="270" width="3" height="1" fill="#000000"/>
<rect x="936" y="272" width="3" height="1" fill="#000000"/>
<rect x="936" y="274" width="3" height="1" fill="#000000"/>
<rect x="936" y="277" width="3" height="1" fill="#000000"/>
<rect x="936" y="279" width="3" height="1" fill="#000000"/>
<rect x="936" y="281" width="3" height="1" fill="#000000"/>
<rect x="936" y="283" width="3" height="1" fill="#000000"/>
<rect x="936" y="286" width="3" height="1" fill="#000000"/>
<rect x="936" y="288" width="3" height="1" fill="#000000"/>
<rect x="936" y="290" width="7" height="1" fill="#000000"/>
<rect x="936" y="292" width="3" height="1" fill="#000000"/>
<rect x="936" y="295" width="3" height="1" fill="#000000"/>
<rect x="936" y="297" width="3" height="1" fill="#000000"/>
<rect x="936" y="299" width="3" height="1" fill="#000000"/>
<rect x="936" y="302" width="3" height="1" fill="#000000"/>
<rect x="936" y="304" width="3" height="1" fill="#000000"/>
<rect x="936" y="306" width="3" height="1" fill="#000000"/>
<rect x="936" y="308" width="3" height="1" fill="#000000"/>
<rect x="936" y="311" width="3" height="1" fill="#000000"/>
<rect x="936" y="313" width="3" height="1" fill="#000000"/>
<rect x="936" y="315" width="7" height="1" fill="#000000"/>
<rect x="936" y="317" width="3" height="1" fill="#000000"/>
<rect x="936" y="320" width="3" height="1" fill="#000000"/>
<rect x="936" y="322" width="3" height="1" fill="#000000"/>
<rect x="936" y="324" width="3" height="1" fill="#000000"/>
<rect x="936" y="326" width="3" height="1" fill="#000000"/>
<rect x="936" y="329" width="3" height="1" fill="#000000"/>
<rect x="936" y="331" width="3" height="1" fill="#000000"/>
<rect x="936" y="333" width="3" height="1" fill="#000000"/>
<rect x="936" y="335" width="3" height="1" fill="#000000"/>
<rect x="936" y="338" width="3" height="1" fill="#000000"/>
<rect x="936" y="340" width="7" height="1" fill="#000000"/>
<rect x="936" y="342" width="3" height="1" fill="#000000"/>
<rect x="936" y="344" width="3" height="1" fill="#000000"/>
<rect x="936" y="347" width="3" height="1" fill="#000000"/>
<rect x="936" y="349" width="3" height="1" fill="#000000"/>
<rect x="936" y="351" width="3" height="1" fill="#000000"/>
<rect x="936" y="353" width="3" height="1" fill="#000000"/>
<rect x="936" y="356" width="3" height="1" fill="#000000"/>
<rect x="936" y="358" width="3" height="1" fill="#000000"/>
<rect x="936" y="360" width="3" height="1" fill="#000000"/>
<rect x="936" y="362" width="3" height="1" fill="#000000"/>
<rect x="936" y="365" width="7" height="1" fill="#000000"/>
<rect x="936" y="367" width="3" height="1" fill="#000000"/>
<rect x="936" y="369" width="3" height="1" fill="#000000"/>
<rect x="936" y="371" width="3" height="1" fill="#000000"/>
<rect x="936" y="374" width="3" height="1" fill="#000000"/>
<rect x="936" y="376" width="3" height="1" fill="#000000"/>
<rect x="936" y="378" width="3" height="1" fill="#000000"/>
<rect x="936" y="380" width="3" height="1" fill="#000000"/>
<rect x="936" y="383" width="3" height="1" fill="#000000"/>
<rect x="936" y="385" width="3" height="1" fill="#000000"/>
<rect x="936" y="387" width="3" height="1" fill="#000000"/>
<rect x="936" y="390" width="7" height="1" fill="#000000"/>
<rect x="936" y="392" width="3" height="1" fill="#000000"/>
<rect x="936" y="394" width="3" height="1" fill="#000000"/>
<rect x="936" y="396" width="3" height="1" fill="#000000"/>
<rect x="936" y="399" width="3" height="1" fill="#000000"/>
<rect x="936" y="401" width="3" height="1" fill="#000000"/>
<rect x="936" y="403" width="3" height="1" fill="#000000"/>
<rect x="936" y="405" width="3" height="1" fill="#000000"/>
<rect x="936" y="408" width="3" height="1" fill="#000000"/>
<rect x="936" y="410" width="3" height="1" fill="#000000"/>
<rect x="936" y="412" width="3" height="1" fill="#000000"/>
<rect x="936" y="414" width="7" height="1" fill="#000000"/>
<rect x="936" y="417" width="3" height="1" fill="#000000"/>
<rect x="936" y="419" width="3" height="1" fill="#000000"/>
<rect x="936" y="421" width="3" height="1" fill="#000000"/>
<rect x="936" y="423" width="3" height="1" fill="#000000"/>
<rect x="936" y="426" width="3" height="1" fill="#000000"/>
<rect x="936" y="428" width="3" height="1" fill="#000000"/>
<rect x="936" y="430" width="3" height="1" fill="#000000"/>
<rect x="936" y="432" width="3" height="1" fill="#000000"/>
<rect x="936" y="435" width="3" height="1" fill="#000000"/>
<rect x="936" y="437" width="3" height="1" fill="#000000"/>
<rect x="936" y="439" width="7" height="1" fill="#000000"/>
<rect x="936" y="441" width="3" height="1" fill="#000000"/>
<rect x="936" y="444" width="3" height="1" fill="#000000"/>
<rect x="936" y="446" width="3" height="1" fill="#000000"/>
<rect x="936" y="448" width="3" height="1" fill="#000000"/>
<rect x="936" y="450" width="3" height="1" fill="#000000"/>
<rect x="936" y="453" width="3" height="1" fill="#000000"/>
<rect x="936" y="455" width="3" height="1" fill="#000000"/>
<rect x="936" y="457" width="3" height="1" fill="#000000"/>
<rect x="936" y="459" width="3" height="1" fill="#000000"/>
<rect x="936" y="462" width="3" height="1" fill="#000000"/>
<rect x="936" y="464" width="7" height="1" fill="#000000"/>
<rect x="936" y="466" width="3" height="1" fill="#000000"/>
<rect x="936" y="468" width="3" height="1" fill="#000000"/>
<rect x="936" y="471" width="3" height="1" fill="#000000"/>
<rect x="936" y="473" width="3" height="1" fill="#000000"/>
<rect x="936" y="475" width="3" height="1" fill="#000000"/>
<rect x="936" y="477" width="3" height="1" fill="#000000"/>
<rect x="936" y="480" width="3" height="1" fill="#000000"/>
<rect x="936" y="482" width="3" height="1" fill="#000000"/>
<rect x="936" y="484" width="3" height="1" fill="#000000"/>
<rect x="936" y="487" width="3" height="1" fill="#000000"/>
<rect x="936" y="489" width="7" height="1" fill="#000000"/>
<rect x="936" y="491" width="3" height="1" fill="#000000"/>
<rect x="936" y="493" width="3" height="1" fill="#000000"/>
<rect x="936" y="496" width="3" height="1" fill="#000000"/>
<rect x="936" y="498" width="3" height="1" fill="#000000"/>
<rect x="936" y="500" width="3" height="1" fill="#000000"/>
<rect x="936" y="502" width="3" height="1" fill="#000000"/>
<rect x="936" y="505" width="3" height="1" fill="#000000"/>
<rect x="936" y="507" width="3" height="1" fill="#000000"/>
<rect x="936" y="509" width="3" height="1" fill="#000000"/>
<rect x="936" y="511" width="3" height="1" fill="#000000"/>
<rect x="936" y="514" width="7" height="1" fill="#000000"/>
<rect x="936" y="516" width="3" height="1" fill="#000000"/>
<rect x="936" y="518" width="3" height="1" fill="#000000"/>
<rect x="936" y="520" width="3" height="1" fill="#000000"/>
<rect x="936" y="523" width="3" height="1" fill="#000000"/>
<rect x="936" y="525" width="3" height="1" fill="#000000"/>
<rect x="936" y="527" width="3" height="1" fill="#000000"/>
<rect x="936" y="529" width="3" height="1" fill="#000000"/>
<rect x="936" y="532" width="3" height="1" fill="#000000"/>
<rect x="936" y="534" width="3" height="1" fill="#000000"/>
<rect x="936" y="536" width="3" height="1" fill="#000000"/>
<rect x="936" y="538" width="7" height="1" fill="#000000"/>
<rect x="936" y="541" width="3" height="1" fill="#000000"/>
<rect x="936" y="543" width="3" height="1" fill="#000000"/>
<rect x="936" y="545" width="3" height="1" fill="#000000"/>
<rect x="936" y="547" width="3" height="1" fill="#000000"/>
<rect x="936" y="550" width="3" height="1" fill="#000000"/>
<rect x="936" y="552" width="3" height="1" fill="#000000"/>
<rect x="936" y="554" width="3" height="1" fill="#000000"/>
<rect x="936" y="556" width="3" height="1" fill="#000000"/>
<rect x="936" y="559" width="3" height="1" fill="#000000"/>
<rect x="936" y="561" width="3" height="1" fill="#000000"/>
<rect x="936" y="563" width="7" height="1" fill="#000000"/>
<rect x="936" y="565" width="3" height="1" fill="#000000"/>
<rect x="936" y="568" width="3" height="1" fill="#000000"/>
<rect x="936" y="570" width="3" height="1" fill="#000000"/>
<rect x="936" y="572" width="3" height="1" fill="#000000"/>
<rect x="936" y="575" width="3" height="1" fill="#000000"/>
<rect x="936" y="577" width="3" height="1" fill="#000000"/>
<rect x="936" y="579" width="3" height="1" fill="#000000"/>
<rect x="936" y="581" width="3" height="1" fill="#000000"/>
<rect x="936" y="584" width="3" height="1" fill="#000000"/>
<rect x="936" y="586" width="3" height="1" fill="#000000"/>
<rect x="936" y="588" width="7" height="1" fill="#000000"/>
<text x="958" y="571" font-size="12" fill="#000000" textLength="22" lengthAdjust="spacingAndGlyphs">517</text>
<text x="958" y="546" font-size="12" fill="#000000" textLength="22" lengthAdjust="spacingAndGlyphs">518</text>
<text x="958" y="521" font-size="12" fill="#000000" textLength="22" lengthAdjust="spacingAndGlyphs">519</text>
<text x="958" y="496" font-size="12" fill="#000000" textLength="22" lengthAdjust="spacingAndGlyphs">520</text>
<text x="958" y="472" font-size="12" fill="#000000" textLength="22" lengthAdjust="spacingAndGlyphs">521</text>
<text x="958" y="447" font-size="12" fill="#000000" textLength="22" lengthAdjust="spacingAndGlyphs">522</text>
<text x="958" y="422" font-size="12" fill="#000000" textLength="22" lengthAdjust="spacingAndGlyphs">523</text>
<text x="958" y="397" font-size="12" fill="#000000" textLength="22" lengthAdjust="spacingAndGlyphs">524</text>
<text x="958" y="372" font-size="12" fill="#000000" textLength="22" lengthAdjust="spacingAndGlyphs">525</text>
<text x="958" y="348" font-size="12" fill="#000000" textLength="22" lengthAdjust="spacingAndGlyphs">526</text>
<text x="958" y="323" font-size="12" fill="#000000" textLength="22" lengthAdjust="spacingAndGlyphs">527</text>
<text x="958" y="298" font-size="12" fill="#000000" textLength="22" lengthAdjust="spacingAndGlyphs">528</text>
<text x="958" y="273" font-size="12" fill="#000000" textLength="22" lengthAdjust="spacingAndGlyphs">529</text>
<text x="958" y="248" font-size="12" fill="#000000" textLength="22" lengthAdjust="spacingAndGlyphs">530</text>
<text x="958" y="223" font-size="12" fill="#000000" textLength="22" lengthAdjust="spacingAndGlyphs">531</text>
<text x="958" y="199" font-size="12" fill="#000000" textLength="22" lengthAdjust="spacingAndGlyphs">532</text>
<text x="958" y="174" font-size="12" fill="#000000" textLength="22" lengthAdjust="spacingAndGlyphs">533</text>
<text x="958" y="149" font-size="12" fill="#000000" textLength="22" lengthAdjust="spacingAndGlyphs">534</text>
<text x="958" y="124" font-size="12" fill="#000000" textLength="22" lengthAdjust="spacingAndGlyphs">535</text>
<text x="958" y="99" font-size="12" fill="#000000" textLength="22" lengthAdjust="spacingAndGlyphs">536</text>
<text x="958" y="75" font-size="12" fill="#000000" textLength="22" lengthAdjust="spacingAndGlyphs">537</text>
<text x="958" y="50" font-size="12" fill="#000000" textLength="22" lengthAdjust="spacingAndGlyphs">538</text>
<text x="958" y="25" font-size="12" fill="#000000" textLength="22" lengthAdjust="spacingAndGlyphs">539</text>
<rect x="191" y="591" width="1" height="4" fill="#000000"/>
<rect x="160" y="591" width="1" height="4" fill="#000000"/>
<rect x="128" y="591" width="1" height="4" fill="#000000"/>
<rect x="97" y="591" width="1" height="4" fill="#000000"/>
<rect x="66" y="591" width="1" height="4" fill="#000000"/>
<rect x="35" y="591" width="1" height="4" fill="#000000"/>
<rect x="4" y="591" width="1" height="4" fill="#000000"/>
<rect x="253" y="591" width="1" height="4" fill="#000000"/>
<rect x="284" y="591" width="1" height="4" fill="#000000"/>
<rect x="316" y="591" width="1" height="4" fill="#000000"/>
<rect x="347" y="591" width="1" height="4" fill="#000000"/>
<rect x="378" y="591" width="1" height="4" fill="#000000"/>
<rect x="409" y="591" width="1" height="4" fill="#000000"/>
<rect x="440" y="591" width="1" height="4" fill="#000000"/>
<rect x="472" y="591" width="1" height="4" fill="#000000"/>
<rect x="525" y="591" width="1" height="4" fill="#000000"/>
<rect x="556" y="591" width="1" height="4" fill="#000000"/>
<rect x="588" y="591" width="1" height="4" fill="#000000"/>
<rect x="619" y="591" width="1" height="4" fill="#000000"/>
<rect x="650" y="591" width="1" height="4" fill="#000000"/>
<rect x="681" y="591" width="1" height="4" fill="#000000"/>
<rect x="712" y="591" width="1" height="4" fill="#000000"/>
<rect x="744" y="591" width="1" height="4" fill="#000000"/>
<rect x="799" y="591" width="1" height="4" fill="#000000"/>
<rect x="830" y="591" width="1" height="4" fill="#000000"/>
<rect x="862" y="591" width="1" height="4" fill="#000000"/>
<rect x="893" y="591" width="1" height="4" fill="#000000"/>
<rect x="924" y="591" width="1" height="4" fill="#000000"/>
<rect x="222" y="591" width="1" height="19" fill="#000000"/>
<rect x="494" y="591" width="1" height="19" fill="#000000"/>
<rect x="768" y="591" width="1" height="19" fill="#000000"/>
<text x="225" y="608" font-size="12" fill="#000000" textLength="7" lengthAdjust="spacingAndGlyphs">9</text>
<text x="497" y="608" font-size="12" fill="#000000" textLength="14" lengthAdjust="spacingAndGlyphs">10</text>
<text x="771" y="608" font-size="12" fill="#000000" textLength="14" lengthAdjust="spacingAndGlyphs">11</text>
<rect x="293" y="10" width="329" height="16" fill="#000000"/>
<rect x="294" y="11" width="327" height="14" fill="#ffffff"/>
<text x="294.7" y="23" font-size="12" fill="#000000" textLength="26.6" lengthAdjust="spacingAndGlyphs">AEX</text>
<text x="325.0" y="23" font-size="12" fill="#000000" textLength="94.4" lengthAdjust="spacingAndGlyphs">kwartiergrafiek</text>
<text x="422.7" y="23" font-size="12" fill="#000000" textLength="67.4" lengthAdjust="spacingAndGlyphs">donderdag</text>
<text x="494.6" y="23" font-size="12" fill="#000000" textLength="14.5" lengthAdjust="spacingAndGlyphs">11</text>
<text x="514.2" y="23" font-size="12" fill="#000000" textLength="20.9" lengthAdjust="spacingAndGlyphs">okt</text>
<text x="540.1" y="23" font-size="12" fill="#000000" textLength="30.4" lengthAdjust="spacingAndGlyphs">2018</text>
<text x="575.6" y="23" font-size="12" fill="#000000" textLength="43.4" lengthAdjust="spacingAndGlyphs">12.00u</text>
<text x="10.5" y="577" font-size="12" fill="#000000" textLength="11" lengthAdjust="spacingAndGlyphs">©</text>
<text x="27.2" y="577" font-size="12" fill="#000000" textLength="25.5" lengthAdjust="spacingAndGlyphs">ADN</text>
<text x="57.8" y="577" font-size="12" fill="#000000" textLength="82.8" lengthAdjust="spacingAndGlyphs">Beursanalyse</text>
<text x="731.5" y="363" font-size="12" fill="#000000" textLength="22" lengthAdjust="spacingAndGlyphs">gap</text>
<text x="406" y="251" font-size="12" fill="#b0b0bc" textLength="7" lengthAdjust="spacingAndGlyphs">x</text>
<text x="414" y="177" font-size="12" fill="#b0b0bc" textLength="7" lengthAdjust="spacingAndGlyphs">y</text>
<text x="752.5" y="163.6" font-size="12" fill="#0000ff" textLength="6.5" lengthAdjust="spacingAndGlyphs">z</text>
<text x="870.5" y="458" font-size="12" fill="#0000ff" textLength="7" lengthAdjust="spacingAndGlyphs">a</text>
</svg>
</body></html>
